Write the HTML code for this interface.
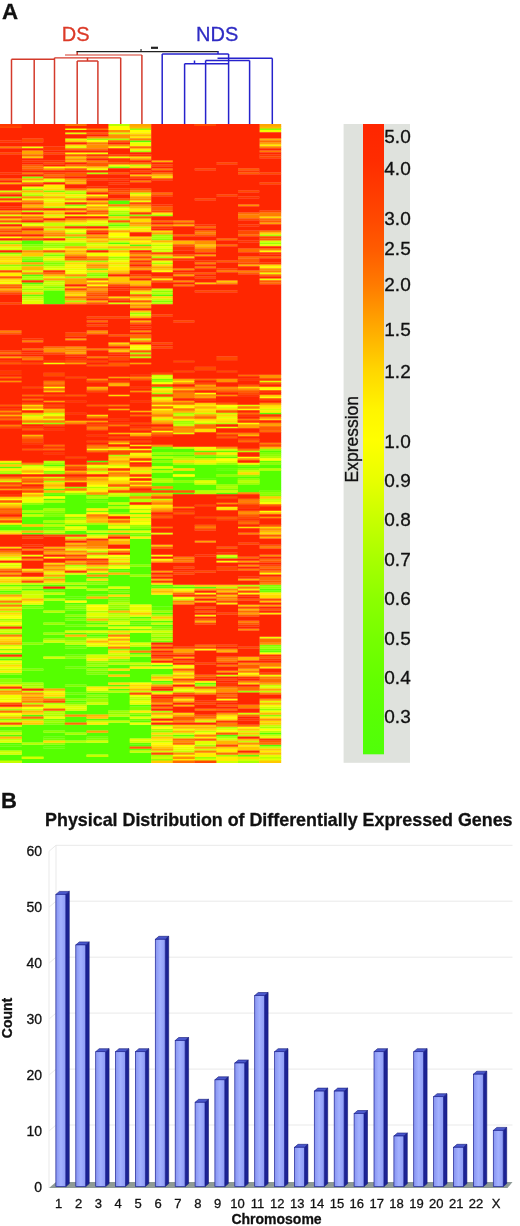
<!DOCTYPE html>
<html><head><meta charset="utf-8"><title>Figure</title>
<style>
html,body{margin:0;padding:0;background:#fff}
body{width:520px;height:1226px;overflow:hidden}
svg{display:block}
svg text{font-family:"Liberation Sans",sans-serif;stroke:#111;stroke-width:.3px}
</style></head><body>
<svg width="520" height="1226" viewBox="0 0 520 1226">
<rect width="520" height="1226" fill="#fff"/>
<text x="2" y="19" font-size="22.3" font-weight="bold" fill="#111">A</text>
<text x="1" y="807.5" font-size="22" font-weight="bold" fill="#111">B</text>
<text x="61.8" y="40.7" font-size="20" fill="#dc3a28" style="stroke:#dc3a28">DS</text>
<text x="196" y="40.7" font-size="20" fill="#2f2cc4" style="stroke:#2f2cc4">NDS</text>
<line x1="11.5" y1="59.3" x2="11.5" y2="124.5" stroke="#d43a2b" stroke-width="1.5"/>
<line x1="34.2" y1="59.3" x2="34.2" y2="124.5" stroke="#d43a2b" stroke-width="1.5"/>
<line x1="11.5" y1="59.3" x2="54.5" y2="59.3" stroke="#d43a2b" stroke-width="1.5"/>
<line x1="54.5" y1="57.8" x2="54.5" y2="124.5" stroke="#d43a2b" stroke-width="1.5"/>
<line x1="54.5" y1="57.8" x2="120.7" y2="57.8" stroke="#d43a2b" stroke-width="1.2"/>
<line x1="77.2" y1="61.0" x2="77.2" y2="124.5" stroke="#d43a2b" stroke-width="1.5"/>
<line x1="97.9" y1="61.0" x2="97.9" y2="124.5" stroke="#d43a2b" stroke-width="1.5"/>
<line x1="77.2" y1="61.0" x2="97.9" y2="61.0" stroke="#d43a2b" stroke-width="1.5"/>
<line x1="87.5" y1="57.8" x2="87.5" y2="61.0" stroke="#d43a2b" stroke-width="1.5"/>
<line x1="120.7" y1="57.8" x2="120.7" y2="124.5" stroke="#d43a2b" stroke-width="1.5"/>
<line x1="141.9" y1="55.0" x2="141.9" y2="124.5" stroke="#d43a2b" stroke-width="1.5"/>
<line x1="65.0" y1="55.0" x2="141.9" y2="55.0" stroke="#d43a2b" stroke-width="1.2"/>
<line x1="77.2" y1="51.6" x2="77.2" y2="55.0" stroke="#d43a2b" stroke-width="1.5"/>
<line x1="76.5" y1="51.6" x2="218.6" y2="51.6" stroke="#222" stroke-width="1.1"/>
<line x1="151.0" y1="47.8" x2="158.0" y2="47.8" stroke="#222" stroke-width="2.2"/>
<line x1="140.3" y1="50.0" x2="141.8" y2="50.0" stroke="#222" stroke-width="1.4"/>
<line x1="218.0" y1="51.6" x2="218.0" y2="54.0" stroke="#2622cc" stroke-width="1.5"/>
<line x1="162.2" y1="54.0" x2="228.6" y2="54.0" stroke="#2622cc" stroke-width="1.5"/>
<line x1="162.2" y1="54.0" x2="162.2" y2="124.5" stroke="#2622cc" stroke-width="1.5"/>
<line x1="228.6" y1="54.0" x2="228.6" y2="124.5" stroke="#2622cc" stroke-width="1.5"/>
<line x1="217.5" y1="58.3" x2="272.3" y2="58.3" stroke="#2622cc" stroke-width="1.5"/>
<line x1="272.3" y1="58.3" x2="272.3" y2="124.5" stroke="#2622cc" stroke-width="1.5"/>
<line x1="205.6" y1="60.5" x2="249.6" y2="60.5" stroke="#2622cc" stroke-width="1.5"/>
<line x1="205.6" y1="60.5" x2="205.6" y2="124.5" stroke="#2622cc" stroke-width="1.5"/>
<line x1="249.6" y1="60.5" x2="249.6" y2="124.5" stroke="#2622cc" stroke-width="1.5"/>
<line x1="184.6" y1="63.7" x2="228.6" y2="63.7" stroke="#2622cc" stroke-width="1.5"/>
<line x1="184.6" y1="63.7" x2="184.6" y2="124.5" stroke="#2622cc" stroke-width="1.5"/>
<line x1="194.5" y1="60.5" x2="194.5" y2="63.7" stroke="#2622cc" stroke-width="1.5"/>
<g fill="none" stroke-width="2.351"><path stroke="#55ff00" d="M129.6 141.31H151.6M108.0 201.35H130.0M108.0 203.35H130.0M21.6 241.37H43.6M21.6 243.37H43.6M108.0 243.37H130.0M129.6 245.38H151.6M21.6 261.39H43.6M21.6 275.39H43.6M21.6 283.40H43.6M43.2 291.40H65.2M43.2 293.41H65.2M43.2 295.41H65.2M151.2 295.41H173.2M43.2 297.41H65.2M43.2 299.41H65.2M43.2 301.41H65.2M43.2 303.41H65.2M259.2 413.48H281.2M151.2 449.50H194.8M151.2 451.51H216.4M259.2 451.51H281.2M151.2 455.51H194.8M194.4 457.51H216.4M151.2 459.51H173.2M86.4 461.51H108.4M151.2 463.51H173.2M43.2 465.51H65.2M151.2 465.51H238.0M259.2 465.51H281.2M0.0 467.52H22.0M172.8 467.52H281.2M151.2 469.52H173.2M194.4 469.52H216.4M172.8 471.52H238.0M259.2 471.52H281.2M151.2 473.52H238.0M259.2 473.52H281.2M151.2 475.52H173.2M194.4 475.52H216.4M259.2 475.52H281.2M151.2 477.52H281.2M172.8 479.52H194.8M216.0 479.52H238.0M259.2 479.52H281.2M216.0 481.52H238.0M259.2 481.52H281.2M151.2 483.53H194.8M216.0 483.53H238.0M259.2 483.53H281.2M151.2 485.53H216.4M237.6 485.53H281.2M172.8 487.53H216.4M237.6 487.53H281.2M43.2 489.53H65.2M151.2 489.53H216.4M237.6 489.53H281.2M237.6 491.53H259.6M172.8 493.53H194.8M216.0 493.53H238.0M43.2 495.53H86.8M64.8 497.53H86.8M108.0 497.53H130.0M43.2 499.54H130.0M64.8 501.54H86.8M108.0 501.54H130.0M43.2 503.54H108.4M21.6 505.54H130.0M21.6 507.54H108.4M21.6 509.54H43.6M64.8 509.54H86.8M108.0 509.54H130.0M64.8 511.54H86.8M108.0 511.54H130.0M21.6 513.54H43.6M64.8 513.54H86.8M21.6 517.55H65.2M21.6 519.55H65.2M21.6 521.55H43.6M21.6 523.55H43.6M64.8 525.55H108.4M0.0 527.55H43.6M86.4 527.55H108.4M0.0 529.55H43.6M86.4 529.55H151.6M64.8 531.56H86.8M21.6 533.56H43.6M64.8 533.56H130.0M129.6 539.56H151.6M129.6 541.56H151.6M129.6 543.56H151.6M129.6 545.56H151.6M129.6 547.57H151.6M129.6 549.57H151.6M129.6 551.57H151.6M129.6 553.57H151.6M129.6 555.57H151.6M129.6 557.57H151.6M129.6 559.57H151.6M129.6 561.57H151.6M129.6 563.58H151.6M129.6 567.58H151.6M108.0 569.58H151.6M129.6 571.58H151.6M129.6 573.58H151.6M64.8 575.58H86.8M108.0 575.58H130.0M64.8 577.58H151.6M64.8 579.59H86.8M108.0 579.59H151.6M64.8 581.59H86.8M108.0 581.59H151.6M108.0 583.59H151.6M21.6 585.59H173.2M86.4 587.59H108.4M129.6 587.59H151.6M172.8 587.59H216.4M21.6 589.59H86.8M108.0 589.59H151.6M259.2 589.59H281.2M0.0 591.59H22.0M64.8 591.59H108.4M129.6 591.59H151.6M64.8 593.59H151.6M43.2 595.60H86.8M129.6 595.60H173.2M43.2 597.60H65.2M129.6 597.60H173.2M64.8 599.60H108.4M129.6 599.60H173.2M43.2 601.60H65.2M86.4 601.60H108.4M129.6 601.60H173.2M43.2 603.60H108.4M129.6 603.60H173.2M21.6 605.60H65.2M151.2 605.60H173.2M43.2 607.60H65.2M21.6 609.60H65.2M21.6 611.61H43.6M64.8 611.61H86.8M21.6 613.61H86.8M151.2 613.61H173.2M21.6 615.61H65.2M21.6 617.61H86.8M129.6 617.61H151.6M21.6 619.61H65.2M21.6 621.61H86.8M129.6 621.61H173.2M21.6 623.61H43.6M64.8 623.61H108.4M21.6 625.61H65.2M129.6 625.61H173.2M21.6 627.62H108.4M21.6 629.62H130.0M21.6 631.62H65.2M21.6 633.62H43.6M64.8 633.62H86.8M129.6 633.62H151.6M21.6 635.62H65.2M86.4 635.62H108.4M129.6 635.62H151.6M21.6 637.62H65.2M129.6 637.62H151.6M21.6 639.62H43.6M129.6 639.62H151.6M21.6 641.62H43.6M129.6 641.62H151.6M43.2 643.63H65.2M21.6 645.63H86.8M21.6 647.63H65.2M86.4 647.63H108.4M129.6 647.63H151.6M21.6 649.63H108.4M129.6 649.63H151.6M21.6 651.63H108.4M0.0 653.63H108.4M129.6 653.63H151.6M21.6 655.63H65.2M21.6 657.63H43.6M129.6 657.63H151.6M0.0 659.64H86.8M129.6 659.64H151.6M21.6 661.64H86.8M129.6 661.64H151.6M21.6 663.64H86.8M21.6 665.64H86.8M108.0 665.64H130.0M151.2 665.64H173.2M21.6 667.64H65.2M86.4 667.64H130.0M43.2 669.64H86.8M129.6 669.64H173.2M21.6 671.64H86.8M108.0 671.64H173.2M21.6 673.64H86.8M108.0 673.64H173.2M0.0 675.65H108.4M129.6 675.65H151.6M0.0 677.65H151.6M21.6 679.65H151.6M21.6 681.65H173.2M43.2 683.65H108.4M43.2 685.65H65.2M86.4 685.65H130.0M43.2 687.65H86.8M64.8 689.65H86.8M108.0 689.65H130.0M64.8 691.66H86.8M86.4 693.66H130.0M64.8 695.66H86.8M108.0 695.66H130.0M64.8 697.66H86.8M108.0 697.66H130.0M108.0 699.66H130.0M64.8 701.66H86.8M108.0 701.66H130.0M108.0 703.66H130.0M86.4 705.66H151.6M86.4 707.67H130.0M86.4 709.67H130.0M64.8 711.67H108.4M64.8 713.67H108.4M21.6 715.67H43.6M64.8 717.67H86.8M108.0 717.67H130.0M64.8 719.67H130.0M64.8 721.67H86.8M129.6 721.67H151.6M108.0 723.68H130.0M21.6 725.68H151.6M0.0 727.68H151.6M0.0 729.68H151.6M21.6 731.68H43.6M64.8 731.68H86.8M108.0 731.68H151.6M21.6 733.68H65.2M86.4 733.68H151.6M259.2 733.68H281.2M0.0 735.68H151.6M216.0 735.68H238.0M21.6 737.68H43.6M64.8 737.68H86.8M108.0 737.68H151.6M21.6 739.69H43.6M64.8 739.69H86.8M108.0 739.69H130.0M21.6 741.69H43.6M108.0 741.69H130.0M0.0 743.69H22.0M64.8 743.69H130.0M21.6 745.69H151.6M259.2 745.69H281.2M0.0 747.69H43.6M64.8 747.69H130.0M0.0 749.69H130.0M21.6 751.69H130.0M21.6 753.69H151.6M0.0 755.70H86.8M108.0 755.70H151.6M0.0 757.70H22.0M43.2 757.70H151.6M0.0 759.70H151.6M21.6 761.70H151.6"/>
<path stroke="#63ff00" d="M108.0 215.36H130.0M108.0 225.36H130.0M21.6 295.41H43.6M151.2 387.46H173.2M216.0 451.51H238.0M216.0 457.51H238.0M259.2 461.51H281.2M216.0 469.52H238.0M194.4 479.52H216.4M129.6 513.54H151.6M43.2 523.55H65.2M0.0 525.55H22.0M43.2 527.55H65.2M108.0 571.58H130.0M0.0 585.59H22.0M151.2 587.59H173.2M43.2 591.59H65.2M64.8 597.60H86.8M151.2 607.60H173.2M151.2 609.60H173.2M108.0 625.61H130.0M259.2 651.63H281.2M194.4 683.65H216.4M129.6 715.67H151.6M172.8 735.68H194.8M43.2 737.68H65.2M129.6 743.69H151.6M0.0 745.69H22.0M43.2 747.69H65.2M129.6 749.69H151.6M237.6 755.70H259.6"/>
<path stroke="#71ff00" d="M151.2 379.46H173.2M151.2 447.50H173.2M237.6 465.51H259.6M259.2 491.53H281.2M43.2 493.53H65.2M86.4 501.54H108.4M43.2 513.54H65.2M43.2 529.55H65.2M129.6 535.56H151.6M86.4 573.58H108.4M86.4 581.59H108.4M259.2 591.59H281.2M86.4 595.60H108.4M108.0 597.60H130.0M64.8 609.60H86.8M108.0 609.60H130.0M129.6 623.61H151.6M64.8 625.61H86.8M151.2 641.62H173.2M64.8 647.63H86.8M259.2 649.63H281.2M64.8 655.63H86.8M108.0 661.64H130.0M64.8 667.64H86.8M86.4 671.64H108.4M64.8 693.66H86.8M86.4 697.66H108.4M43.2 719.67H65.2M129.6 719.67H151.6M86.4 737.68H108.4M43.2 739.69H65.2"/>
<path stroke="#80ff00" d="M108.0 167.33H130.0M43.2 191.34H65.2M0.0 243.37H22.0M21.6 245.38H43.6M43.2 255.38H65.2M21.6 259.38H43.6M43.2 263.39H65.2M21.6 265.39H43.6M86.4 269.39H108.4M86.4 275.39H108.4M43.2 287.40H65.2M151.2 301.41H173.2M259.2 453.51H281.2M194.4 455.51H216.4M216.0 489.53H238.0M86.4 495.53H108.4M259.2 495.53H281.2M86.4 511.54H108.4M108.0 513.54H130.0M43.2 515.55H65.2M64.8 517.55H86.8M43.2 533.56H65.2M129.6 533.56H151.6M259.2 585.59H281.2M108.0 591.59H130.0M0.0 593.59H22.0M108.0 599.60H130.0M64.8 605.60H86.8M21.6 607.60H43.6M64.8 619.61H86.8M151.2 627.62H173.2M129.6 629.62H151.6M86.4 633.62H108.4M64.8 637.62H86.8M151.2 637.62H173.2M64.8 639.62H86.8M259.2 645.63H281.2M86.4 663.64H108.4M129.6 665.64H151.6M21.6 669.64H43.6M86.4 673.64H108.4M64.8 685.65H86.8M64.8 703.66H86.8M129.6 707.67H151.6M129.6 709.67H151.6M43.2 723.68H65.2M86.4 739.69H108.4"/>
<path stroke="#8eff00" d="M259.2 129.30H281.2M21.6 177.33H43.6M64.8 205.35H86.8M129.6 215.36H151.6M64.8 237.37H86.8M151.2 239.37H173.2M43.2 245.38H65.2M86.4 249.38H108.4M0.0 253.38H22.0M21.6 257.38H43.6M0.0 265.39H22.0M151.2 291.40H173.2M172.8 453.51H194.8M259.2 455.51H281.2M151.2 461.51H173.2M0.0 463.51H22.0M259.2 463.51H281.2M237.6 469.52H259.6M43.2 471.52H65.2M216.0 475.52H259.6M237.6 479.52H259.6M172.8 481.52H194.8M64.8 487.53H86.8M259.2 493.53H281.2M129.6 495.53H151.6M21.6 503.54H43.6M43.2 511.54H65.2M129.6 527.55H151.6M129.6 565.58H151.6M86.4 583.59H108.4M259.2 587.59H281.2M108.0 601.60H130.0M108.0 605.60H130.0M64.8 607.60H86.8M64.8 615.61H86.8M108.0 619.61H130.0M86.4 621.61H108.4M151.2 629.62H173.2M0.0 633.62H22.0M86.4 637.62H108.4M21.6 643.63H43.6M0.0 649.63H22.0M108.0 649.63H130.0M64.8 657.63H86.8M108.0 659.64H130.0M0.0 673.64H22.0M0.0 679.65H22.0M0.0 681.65H22.0M151.2 683.65H173.2M86.4 695.66H108.4M64.8 699.66H86.8M259.2 709.67H281.2M108.0 713.67H151.6M259.2 715.67H281.2M0.0 719.67H22.0M0.0 731.68H22.0M43.2 731.68H65.2M151.2 731.68H173.2M43.2 743.69H65.2M151.2 759.70H173.2"/>
<path stroke="#9cff00" d="M129.6 129.30H151.6M86.4 139.31H108.4M21.6 189.34H43.6M0.0 197.35H22.0M151.2 215.36H173.2M151.2 235.37H173.2M43.2 243.37H86.8M259.2 243.37H281.2M64.8 245.38H86.8M21.6 247.38H43.6M21.6 249.38H43.6M108.0 257.38H130.0M86.4 261.39H108.4M43.2 265.39H65.2M86.4 273.39H108.4M21.6 279.40H43.6M21.6 289.40H43.6M129.6 313.42H151.6M151.2 381.46H173.2M151.2 393.47H173.2M172.8 421.49H194.8M43.2 423.49H65.2M259.2 449.50H281.2M151.2 453.51H173.2M172.8 457.51H194.8M43.2 463.51H65.2M216.0 463.51H238.0M0.0 473.52H22.0M43.2 473.52H65.2M237.6 483.53H259.6M216.0 485.53H238.0M64.8 493.53H86.8M129.6 493.53H173.2M129.6 517.55H151.6M129.6 525.55H151.6M216.0 557.57H238.0M129.6 575.58H151.6M108.0 607.60H130.0M151.2 611.61H173.2M0.0 619.61H22.0M43.2 623.61H65.2M43.2 633.62H65.2M151.2 633.62H173.2M43.2 639.62H65.2M259.2 647.63H281.2M0.0 657.63H22.0M86.4 661.64H108.4M86.4 665.64H108.4M86.4 669.64H108.4M0.0 683.65H22.0M21.6 685.65H43.6M151.2 691.66H173.2M237.6 691.66H259.6M86.4 699.66H108.4M86.4 701.66H108.4M108.0 711.67H130.0M21.6 719.67H43.6M43.2 721.67H65.2M194.4 757.70H216.4"/>
<path stroke="#aaff00" d="M108.0 139.31H130.0M129.6 151.32H151.6M64.8 193.34H86.8M21.6 195.34H43.6M108.0 211.35H130.0M108.0 219.36H130.0M108.0 223.36H130.0M64.8 225.36H86.8M259.2 235.37H281.2M151.2 237.37H173.2M43.2 247.38H65.2M151.2 257.38H173.2M43.2 261.39H65.2M151.2 263.39H173.2M21.6 277.40H43.6M64.8 277.40H86.8M21.6 285.40H43.6M64.8 301.41H86.8M129.6 353.44H151.6M172.8 413.48H194.8M172.8 423.49H194.8M108.0 455.51H130.0M216.0 455.51H238.0M259.2 457.51H281.2M172.8 463.51H194.8M151.2 479.52H173.2M43.2 481.52H65.2M86.4 487.53H108.4M216.0 487.53H238.0M86.4 497.53H108.4M43.2 509.54H65.2M129.6 509.54H151.6M21.6 511.54H43.6M64.8 519.55H86.8M43.2 521.55H65.2M86.4 523.55H108.4M64.8 565.58H86.8M43.2 577.58H65.2M172.8 585.59H194.8M21.6 587.59H43.6M0.0 589.59H22.0M86.4 611.61H108.4M108.0 613.61H130.0M151.2 615.61H173.2M108.0 617.61H130.0M129.6 619.61H151.6M64.8 641.62H86.8M21.6 683.65H43.6M194.4 685.65H216.4M86.4 691.66H108.4M43.2 697.66H65.2M43.2 703.66H65.2M0.0 709.67H22.0M43.2 711.67H65.2M151.2 711.67H173.2M43.2 715.67H65.2M151.2 725.68H173.2M259.2 727.68H281.2M151.2 729.68H173.2M64.8 733.68H86.8M151.2 735.68H173.2M216.0 737.68H238.0M194.4 745.69H216.4M151.2 755.70H173.2M216.0 755.70H238.0M237.6 761.70H259.6"/>
<path stroke="#b8ff00" d="M108.0 125.30H130.0M86.4 173.33H108.4M43.2 207.35H65.2M108.0 213.36H130.0M86.4 225.36H108.4M108.0 227.36H130.0M64.8 233.37H86.8M151.2 245.38H173.2M108.0 249.38H130.0M64.8 261.39H86.8M86.4 277.40H108.4M43.2 281.40H65.2M43.2 285.40H65.2M43.2 289.40H65.2M151.2 293.41H173.2M21.6 297.41H43.6M151.2 303.41H173.2M129.6 357.45H151.6M194.4 423.49H238.0M237.6 451.51H259.6M151.2 457.51H173.2M172.8 459.51H194.8M43.2 461.51H65.2M21.6 465.51H43.6M259.2 469.52H281.2M0.0 471.52H22.0M151.2 471.52H173.2M151.2 481.52H173.2M237.6 481.52H259.6M194.4 491.53H216.4M194.4 493.53H216.4M129.6 499.54H151.6M43.2 501.54H65.2M129.6 501.54H151.6M108.0 507.54H130.0M64.8 523.55H86.8M43.2 525.55H65.2M108.0 525.55H130.0M86.4 551.57H108.4M43.2 583.59H86.8M237.6 585.59H259.6M216.0 587.59H238.0M86.4 589.59H108.4M0.0 603.60H22.0M108.0 603.60H130.0M0.0 611.61H22.0M43.2 611.61H65.2M86.4 617.61H108.4M86.4 625.61H108.4M0.0 629.62H22.0M108.0 633.62H130.0M151.2 635.62H173.2M151.2 639.62H173.2M108.0 655.63H151.6M108.0 663.64H130.0M151.2 675.65H173.2M21.6 687.65H43.6M0.0 689.65H22.0M108.0 691.66H130.0M129.6 699.66H151.6M21.6 703.66H43.6M43.2 713.67H65.2M108.0 715.67H130.0M216.0 727.68H238.0M259.2 731.68H281.2M237.6 735.68H259.6M64.8 741.69H86.8M21.6 743.69H43.6M259.2 757.70H281.2"/>
<path stroke="#c6ff00" d="M129.6 165.33H151.6M64.8 191.34H86.8M129.6 193.34H151.6M108.0 207.35H130.0M21.6 211.35H43.6M21.6 223.36H65.2M43.2 225.36H65.2M43.2 229.37H65.2M0.0 241.37H22.0M86.4 243.37H108.4M151.2 249.38H173.2M43.2 253.38H65.2M108.0 259.38H130.0M21.6 291.40H43.6M21.6 299.41H43.6M151.2 299.41H173.2M151.2 375.46H173.2M151.2 397.47H173.2M43.2 413.48H65.2M194.4 413.48H238.0M21.6 415.48H43.6M172.8 415.48H194.8M21.6 423.49H43.6M172.8 425.49H194.8M194.4 459.51H216.4M86.4 471.52H108.4M237.6 471.52H259.6M194.4 483.53H216.4M216.0 491.53H238.0M108.0 495.53H130.0M151.2 499.54H173.2M259.2 499.54H281.2M108.0 503.54H130.0M21.6 515.55H43.6M43.2 531.56H65.2M64.8 537.56H86.8M108.0 565.58H130.0M21.6 583.59H43.6M64.8 587.59H86.8M21.6 591.59H43.6M21.6 593.59H65.2M43.2 599.60H65.2M172.8 599.60H194.8M108.0 615.61H130.0M0.0 621.61H22.0M108.0 621.61H130.0M151.2 623.61H173.2M0.0 625.61H22.0M64.8 643.63H86.8M0.0 645.63H22.0M129.6 645.63H151.6M129.6 663.64H151.6M0.0 669.64H22.0M259.2 685.65H281.2M129.6 691.66H151.6M259.2 691.66H281.2M129.6 697.66H151.6M64.8 705.66H86.8M21.6 709.67H43.6M86.4 721.67H130.0M259.2 725.68H281.2M194.4 731.68H216.4M0.0 733.68H22.0M259.2 735.68H281.2M172.8 737.68H194.8M0.0 739.69H22.0M151.2 741.69H173.2M237.6 741.69H259.6M259.2 747.69H281.2M0.0 751.69H22.0M129.6 751.69H151.6M172.8 751.69H194.8M86.4 755.70H108.4M151.2 757.70H173.2M0.0 761.70H22.0"/>
<path stroke="#d4ff00" d="M108.0 133.31H130.0M43.2 181.34H65.2M0.0 191.34H22.0M21.6 193.34H43.6M64.8 197.35H86.8M43.2 215.36H65.2M0.0 223.36H22.0M129.6 227.36H151.6M64.8 229.37H86.8M108.0 241.37H130.0M259.2 241.37H281.2M0.0 249.38H22.0M129.6 249.38H151.6M151.2 251.38H173.2M0.0 255.38H22.0M43.2 257.38H65.2M0.0 267.39H22.0M43.2 267.39H65.2M0.0 269.39H22.0M43.2 283.40H65.2M21.6 287.40H43.6M151.2 289.40H173.2M129.6 293.41H151.6M108.0 303.41H130.0M129.6 315.42H151.6M129.6 339.43H151.6M259.2 409.48H281.2M151.2 419.48H173.2M172.8 447.50H194.8M216.0 449.50H238.0M194.4 463.51H216.4M108.0 465.51H130.0M43.2 467.52H65.2M86.4 467.52H108.4M129.6 471.52H151.6M43.2 477.52H65.2M0.0 481.52H22.0M108.0 487.53H130.0M108.0 493.53H130.0M259.2 501.54H281.2M64.8 529.55H86.8M0.0 531.56H22.0M86.4 531.56H108.4M86.4 535.56H108.4M86.4 555.57H108.4M216.0 555.57H238.0M0.0 557.57H22.0M108.0 557.57H130.0M0.0 565.58H22.0M86.4 567.58H108.4M64.8 573.58H86.8M0.0 583.59H22.0M0.0 587.59H22.0M21.6 595.60H43.6M21.6 597.60H43.6M151.2 619.61H173.2M0.0 631.62H22.0M64.8 631.62H86.8M151.2 631.62H173.2M43.2 641.62H65.2M108.0 653.63H130.0M86.4 655.63H108.4M43.2 657.63H65.2M86.4 657.63H108.4M0.0 663.64H22.0M216.0 675.65H238.0M21.6 691.66H43.6M172.8 691.66H194.8M86.4 703.66H108.4M259.2 707.67H281.2M64.8 709.67H86.8M237.6 713.67H259.6M151.2 717.67H173.2M0.0 721.67H22.0M194.4 721.67H216.4M0.0 725.68H22.0M237.6 731.68H259.6M172.8 733.68H194.8M216.0 739.69H238.0M86.4 741.69H108.4M129.6 741.69H151.6M194.4 749.69H216.4M151.2 751.69H173.2M0.0 753.69H22.0M21.6 757.70H43.6M194.4 759.70H216.4M237.6 759.70H259.6M216.0 761.70H238.0"/>
<path stroke="#e3ff00" d="M64.8 133.31H86.8M64.8 139.31H86.8M64.8 147.31H86.8M43.2 195.34H65.2M43.2 201.35H65.2M64.8 207.35H86.8M0.0 215.36H22.0M86.4 223.36H108.4M108.0 229.37H130.0M43.2 237.37H65.2M108.0 237.37H130.0M43.2 241.37H86.8M86.4 245.38H130.0M259.2 245.38H281.2M0.0 247.38H22.0M108.0 265.39H130.0M43.2 269.39H86.8M21.6 271.39H43.6M43.2 277.40H65.2M21.6 301.41H43.6M21.6 303.41H43.6M129.6 349.44H151.6M151.2 377.46H173.2M259.2 381.46H281.2M237.6 405.48H259.6M216.0 407.48H238.0M216.0 417.48H238.0M43.2 419.48H65.2M216.0 427.49H238.0M172.8 433.49H194.8M216.0 461.51H238.0M151.2 467.52H173.2M194.4 481.52H216.4M86.4 489.53H108.4M21.6 497.53H43.6M64.8 521.55H86.8M129.6 521.55H151.6M129.6 531.56H151.6M151.2 533.56H173.2M64.8 549.57H86.8M108.0 561.57H130.0M64.8 567.58H86.8M43.2 573.58H65.2M108.0 587.59H130.0M0.0 599.60H22.0M21.6 603.60H43.6M0.0 607.60H22.0M129.6 607.60H151.6M129.6 609.60H151.6M86.4 613.61H108.4M86.4 615.61H108.4M129.6 615.61H151.6M108.0 623.61H130.0M108.0 627.62H130.0M86.4 631.62H108.4M129.6 643.63H151.6M86.4 645.63H108.4M259.2 687.65H281.2M43.2 691.66H65.2M0.0 699.66H22.0M259.2 701.66H281.2M129.6 703.66H151.6M43.2 705.66H65.2M43.2 707.67H86.8M0.0 715.67H22.0M129.6 717.67H151.6M216.0 729.68H238.0M259.2 737.68H281.2M129.6 739.69H151.6M0.0 741.69H22.0M194.4 741.69H216.4M194.4 743.69H216.4M172.8 749.69H194.8M259.2 755.70H281.2M259.2 759.70H281.2"/>
<path stroke="#f1ff00" d="M64.8 129.30H86.8M259.2 131.30H281.2M129.6 143.31H151.6M129.6 145.31H151.6M21.6 147.31H43.6M86.4 153.32H108.4M108.0 157.32H130.0M108.0 165.33H130.0M86.4 169.33H108.4M43.2 179.33H65.2M21.6 181.34H43.6M21.6 187.34H43.6M21.6 199.35H65.2M64.8 201.35H86.8M129.6 201.35H151.6M64.8 215.36H86.8M86.4 221.36H108.4M64.8 223.36H86.8M21.6 225.36H43.6M151.2 243.37H173.2M151.2 247.38H173.2M43.2 249.38H65.2M86.4 253.38H108.4M86.4 255.38H108.4M108.0 261.39H130.0M151.2 261.39H173.2M64.8 265.39H86.8M64.8 273.39H86.8M259.2 273.39H281.2M259.2 279.40H281.2M0.0 283.40H22.0M43.2 363.45H65.2M151.2 389.47H173.2M43.2 415.48H65.2M194.4 421.49H216.4M194.4 447.50H216.4M86.4 449.50H130.0M129.6 453.51H151.6M237.6 463.51H259.6M86.4 465.51H108.4M21.6 467.52H43.6M108.0 477.52H151.6M64.8 491.53H86.8M21.6 499.54H43.6M21.6 501.54H43.6M0.0 503.54H22.0M129.6 505.54H151.6M129.6 511.54H151.6M64.8 515.55H86.8M64.8 527.55H86.8M108.0 527.55H130.0M21.6 555.57H43.6M0.0 563.58H22.0M0.0 577.58H22.0M172.8 589.59H194.8M172.8 597.60H194.8M129.6 605.60H151.6M86.4 607.60H108.4M86.4 609.60H108.4M129.6 611.61H151.6M0.0 615.61H22.0M129.6 627.62H151.6M129.6 631.62H151.6M259.2 637.62H281.2M86.4 639.62H108.4M108.0 641.62H130.0M86.4 643.63H108.4M0.0 651.63H22.0M0.0 661.64H22.0M0.0 667.64H22.0M151.2 667.64H194.8M172.8 673.64H194.8M259.2 675.65H281.2M86.4 689.65H108.4M172.8 689.65H194.8M194.4 691.66H216.4M0.0 695.66H22.0M129.6 695.66H151.6M0.0 697.66H22.0M129.6 701.66H151.6M259.2 705.66H281.2M259.2 711.67H281.2M43.2 717.67H65.2M129.6 723.68H151.6M172.8 729.68H194.8M172.8 747.69H194.8"/>
<path stroke="#ffff00" d="M108.0 127.30H130.0M108.0 129.30H130.0M129.6 131.30H151.6M86.4 141.31H108.4M108.0 147.31H130.0M64.8 153.32H86.8M43.2 167.33H65.2M86.4 195.34H108.4M86.4 205.35H108.4M108.0 209.35H130.0M86.4 215.36H108.4M64.8 231.37H86.8M108.0 233.37H130.0M108.0 235.37H130.0M0.0 237.37H22.0M129.6 241.37H151.6M259.2 251.38H281.2M108.0 253.38H130.0M108.0 255.38H130.0M259.2 267.39H281.2M64.8 271.39H86.8M151.2 271.39H173.2M86.4 281.40H108.4M86.4 285.40H108.4M129.6 347.44H151.6M151.2 383.46H173.2M43.2 387.46H65.2M259.2 389.47H281.2M194.4 393.47H216.4M259.2 397.47H281.2M151.2 405.48H173.2M216.0 405.48H238.0M172.8 407.48H194.8M21.6 409.48H43.6M151.2 409.48H173.2M237.6 409.48H259.6M237.6 423.49H259.6M151.2 431.49H173.2M129.6 449.50H151.6M237.6 457.51H259.6M216.0 459.51H238.0M259.2 459.51H281.2M129.6 461.51H151.6M108.0 467.52H130.0M43.2 469.52H65.2M21.6 473.52H43.6M172.8 475.52H194.8M108.0 479.52H130.0M129.6 481.52H151.6M86.4 485.53H108.4M43.2 497.53H65.2M0.0 499.54H22.0M259.2 503.54H281.2M129.6 507.54H151.6M259.2 511.54H281.2M86.4 513.54H108.4M129.6 523.55H151.6M108.0 549.57H130.0M108.0 555.57H130.0M151.2 555.57H173.2M43.2 557.57H65.2M86.4 557.57H108.4M0.0 559.57H22.0M151.2 559.57H173.2M216.0 561.57H238.0M108.0 567.58H130.0M259.2 573.58H281.2M194.4 593.59H216.4M237.6 593.59H259.6M64.8 601.60H86.8M86.4 605.60H108.4M0.0 617.61H22.0M0.0 623.61H22.0M108.0 637.62H130.0M108.0 645.63H130.0M0.0 647.63H22.0M194.4 649.63H216.4M259.2 653.63H281.2M151.2 663.64H173.2M237.6 673.64H259.6M129.6 683.65H151.6M216.0 699.66H238.0M0.0 701.66H22.0M21.6 707.67H43.6M0.0 713.67H22.0M216.0 717.67H238.0M151.2 727.68H173.2M237.6 727.68H259.6M259.2 729.68H281.2M216.0 731.68H238.0M194.4 733.68H216.4M151.2 743.69H173.2M172.8 745.69H194.8M172.8 755.70H194.8"/>
<path stroke="#ffed00" d="M129.6 133.31H151.6M129.6 137.31H151.6M259.2 145.31H281.2M129.6 149.32H151.6M64.8 167.33H86.8M43.2 185.34H65.2M43.2 187.34H65.2M64.8 195.34H86.8M129.6 195.34H151.6M129.6 209.35H151.6M151.2 213.36H173.2M129.6 229.37H151.6M64.8 249.38H86.8M43.2 259.38H65.2M0.0 261.39H22.0M64.8 267.39H86.8M108.0 267.39H130.0M108.0 269.39H130.0M0.0 273.39H22.0M0.0 275.39H22.0M151.2 279.40H173.2M0.0 281.40H22.0M129.6 299.41H151.6M129.6 345.44H151.6M172.8 381.46H194.8M259.2 387.46H281.2M151.2 399.47H173.2M172.8 405.48H216.4M259.2 407.48H281.2M194.4 409.48H216.4M259.2 411.48H281.2M21.6 417.48H43.6M172.8 419.48H194.8M216.0 419.48H238.0M129.6 445.50H151.6M194.4 449.50H216.4M216.0 453.51H238.0M129.6 455.51H151.6M0.0 461.51H22.0M194.4 461.51H216.4M0.0 469.52H43.6M86.4 473.52H108.4M129.6 485.53H151.6M86.4 491.53H108.4M21.6 493.53H43.6M151.2 505.54H173.2M216.0 507.54H238.0M86.4 509.54H108.4M108.0 515.55H151.6M129.6 519.55H151.6M0.0 523.55H22.0M86.4 537.56H108.4M129.6 537.56H151.6M86.4 549.57H108.4M0.0 567.58H22.0M21.6 569.58H43.6M64.8 569.58H86.8M86.4 571.58H108.4M21.6 577.58H43.6M237.6 589.59H259.6M151.2 593.59H173.2M259.2 593.59H281.2M0.0 597.60H22.0M21.6 601.60H43.6M216.0 603.60H238.0M259.2 613.61H281.2M194.4 615.61H216.4M0.0 637.62H22.0M86.4 659.64H108.4M172.8 665.64H194.8M129.6 667.64H151.6M259.2 667.64H281.2M0.0 671.64H22.0M172.8 677.65H194.8M151.2 679.65H173.2M194.4 681.65H216.4M172.8 683.65H194.8M0.0 685.65H22.0M86.4 687.65H108.4M129.6 687.65H151.6M43.2 693.66H65.2M151.2 693.66H173.2M172.8 699.66H194.8M129.6 711.67H151.6M151.2 715.67H173.2M259.2 717.67H281.2M86.4 723.68H108.4M194.4 737.68H216.4M151.2 739.69H173.2M151.2 745.69H173.2M237.6 745.69H259.6M216.0 749.69H238.0M216.0 751.69H238.0M259.2 751.69H281.2M194.4 753.69H216.4M194.4 755.70H216.4M216.0 757.70H238.0M172.8 759.70H194.8M216.0 759.70H238.0"/>
<path stroke="#ffdb00" d="M64.8 145.31H86.8M129.6 157.32H151.6M129.6 167.33H151.6M151.2 177.33H173.2M43.2 189.34H65.2M43.2 193.34H65.2M43.2 203.35H65.2M43.2 205.35H65.2M43.2 211.35H65.2M129.6 211.35H151.6M21.6 215.36H43.6M43.2 217.36H65.2M259.2 217.36H281.2M129.6 219.36H151.6M129.6 221.36H151.6M129.6 231.37H173.2M259.2 233.37H281.2M129.6 237.37H151.6M64.8 239.37H108.4M129.6 243.37H151.6M86.4 247.38H108.4M172.8 257.38H194.8M0.0 259.38H22.0M64.8 263.39H86.8M108.0 263.39H130.0M151.2 265.39H173.2M259.2 265.39H281.2M86.4 271.39H108.4M0.0 279.40H22.0M129.6 291.40H151.6M64.8 295.41H86.8M108.0 297.41H130.0M151.2 297.41H173.2M129.6 303.41H151.6M108.0 343.44H130.0M237.6 387.46H259.6M151.2 391.47H173.2M108.0 395.47H130.0M21.6 405.48H43.6M259.2 405.48H281.2M216.0 409.48H238.0M194.4 411.48H216.4M86.4 415.48H108.4M216.0 415.48H238.0M151.2 417.48H173.2M21.6 419.48H43.6M194.4 419.48H216.4M259.2 419.48H281.2M216.0 421.49H238.0M194.4 429.49H216.4M194.4 431.49H216.4M129.6 433.49H151.6M108.0 443.50H130.0M108.0 459.51H130.0M172.8 461.51H194.8M129.6 469.52H151.6M172.8 469.52H194.8M108.0 471.52H130.0M129.6 473.52H151.6M237.6 473.52H259.6M108.0 481.52H130.0M43.2 483.53H65.2M86.4 483.53H108.4M43.2 487.53H65.2M151.2 507.54H173.2M216.0 509.54H238.0M108.0 523.55H130.0M237.6 527.55H281.2M108.0 531.56H130.0M0.0 533.56H22.0M259.2 533.56H281.2M108.0 539.56H130.0M0.0 547.57H22.0M108.0 559.57H130.0M43.2 563.58H65.2M43.2 571.58H65.2M0.0 579.59H22.0M86.4 579.59H108.4M43.2 581.59H65.2M151.2 583.59H173.2M151.2 589.59H173.2M172.8 591.59H194.8M108.0 595.60H130.0M259.2 595.60H281.2M259.2 597.60H281.2M0.0 613.61H22.0M108.0 631.62H130.0M0.0 639.62H22.0M108.0 651.63H130.0M108.0 657.63H130.0M0.0 665.64H22.0M108.0 669.64H130.0M108.0 683.65H130.0M237.6 683.65H259.6M129.6 685.65H151.6M108.0 687.65H130.0M43.2 695.66H65.2M0.0 707.67H22.0M21.6 713.67H43.6M172.8 713.67H194.8M216.0 715.67H238.0M216.0 719.67H238.0M21.6 721.67H43.6M151.2 721.67H173.2M259.2 721.67H281.2M194.4 729.68H216.4M151.2 733.68H173.2M43.2 741.69H65.2M237.6 757.70H259.6"/>
<path stroke="#ffc900" d="M64.8 141.31H86.8M21.6 157.32H43.6M64.8 157.32H86.8M86.4 167.33H108.4M129.6 175.33H151.6M0.0 201.35H22.0M86.4 201.35H108.4M64.8 211.35H86.8M108.0 217.36H130.0M0.0 219.36H22.0M64.8 221.36H86.8M86.4 229.37H108.4M0.0 245.38H22.0M194.4 245.38H216.4M21.6 253.38H43.6M64.8 253.38H86.8M21.6 255.38H43.6M151.2 255.38H173.2M0.0 257.38H22.0M0.0 263.39H22.0M86.4 263.39H108.4M151.2 269.39H173.2M108.0 271.39H130.0M108.0 277.40H130.0M108.0 279.40H130.0M108.0 281.40H151.6M216.0 281.40H238.0M129.6 283.40H151.6M194.4 283.40H216.4M64.8 287.40H86.8M21.6 293.41H43.6M64.8 293.41H86.8M129.6 311.42H151.6M108.0 351.44H130.0M172.8 389.47H194.8M43.2 391.47H65.2M259.2 395.47H281.2M151.2 401.47H173.2M194.4 403.47H216.4M151.2 411.48H173.2M108.0 457.51H151.6M108.0 463.51H130.0M0.0 465.51H22.0M129.6 467.52H151.6M86.4 477.52H108.4M64.8 481.52H108.4M108.0 483.53H130.0M108.0 489.53H130.0M0.0 497.53H22.0M259.2 497.53H281.2M0.0 505.54H22.0M86.4 519.55H108.4M21.6 525.55H43.6M151.2 545.56H173.2M64.8 553.57H86.8M0.0 555.57H22.0M21.6 579.59H43.6M0.0 581.59H22.0M194.4 585.59H238.0M216.0 591.59H238.0M216.0 595.60H238.0M194.4 601.60H216.4M259.2 601.60H281.2M237.6 605.60H259.6M129.6 613.61H151.6M151.2 617.61H173.2M0.0 641.62H22.0M108.0 643.63H130.0M108.0 675.65H130.0M237.6 675.65H259.6M172.8 687.65H194.8M194.4 689.65H216.4M21.6 695.66H43.6M86.4 717.67H108.4M194.4 719.67H216.4M21.6 723.68H43.6M259.2 723.68H281.2M172.8 725.68H216.4M237.6 729.68H259.6M237.6 733.68H259.6M151.2 737.68H173.2M151.2 747.69H173.2M216.0 747.69H259.6M237.6 749.69H281.2M151.2 761.70H173.2M259.2 761.70H281.2"/>
<path stroke="#ffb700" d="M129.6 127.30H151.6M259.2 127.30H281.2M129.6 135.31H151.6M259.2 139.31H281.2M64.8 161.32H86.8M151.2 161.32H173.2M151.2 175.33H173.2M0.0 183.34H22.0M64.8 183.34H86.8M86.4 189.34H108.4M21.6 191.34H43.6M43.2 197.35H65.2M21.6 205.35H43.6M129.6 207.35H151.6M86.4 209.35H108.4M43.2 213.36H65.2M129.6 225.36H151.6M172.8 225.36H194.8M0.0 227.36H22.0M43.2 227.36H65.2M43.2 231.37H65.2M21.6 237.37H43.6M108.0 239.37H151.6M86.4 241.37H108.4M151.2 241.37H194.8M172.8 243.37H194.8M108.0 247.38H151.6M64.8 251.38H86.8M108.0 251.38H130.0M237.6 265.39H259.6M21.6 267.39H43.6M21.6 269.39H43.6M43.2 275.39H65.2M0.0 289.40H22.0M129.6 297.41H151.6M86.4 301.41H108.4M129.6 317.42H151.6M129.6 321.42H151.6M108.0 385.46H130.0M86.4 387.46H108.4M194.4 407.48H216.4M43.2 409.48H65.2M108.0 409.48H130.0M129.6 411.48H151.6M172.8 411.48H194.8M21.6 413.48H43.6M151.2 413.48H173.2M0.0 415.48H22.0M64.8 421.49H86.8M151.2 421.49H173.2M108.0 433.49H130.0M21.6 435.49H43.6M237.6 435.49H259.6M108.0 447.50H130.0M259.2 447.50H281.2M21.6 471.52H43.6M64.8 471.52H86.8M21.6 477.52H43.6M0.0 479.52H22.0M21.6 483.53H43.6M43.2 485.53H65.2M43.2 491.53H65.2M21.6 495.53H43.6M151.2 501.54H173.2M259.2 513.54H281.2M0.0 519.55H22.0M108.0 519.55H130.0M86.4 521.55H108.4M21.6 531.56H43.6M259.2 531.56H281.2M259.2 537.56H281.2M108.0 541.56H130.0M64.8 543.56H86.8M108.0 543.56H130.0M43.2 547.57H86.8M151.2 561.57H173.2M86.4 565.58H108.4M43.2 567.58H65.2M108.0 573.58H130.0M151.2 579.59H173.2M237.6 579.59H259.6M151.2 591.59H173.2M86.4 597.60H108.4M21.6 599.60H43.6M0.0 609.60H22.0M237.6 609.60H259.6M108.0 611.61H130.0M86.4 619.61H108.4M194.4 621.61H216.4M64.8 635.62H86.8M86.4 641.62H108.4M216.0 651.63H238.0M172.8 657.63H194.8M237.6 657.63H259.6M237.6 659.64H259.6M237.6 669.64H259.6M172.8 671.64H194.8M172.8 675.65H194.8M151.2 677.65H173.2M129.6 689.65H151.6M259.2 703.66H281.2M172.8 705.66H194.8M21.6 711.67H43.6M259.2 713.67H281.2M86.4 715.67H108.4M0.0 717.67H22.0M172.8 727.68H216.4M172.8 731.68H194.8M0.0 737.68H22.0M237.6 739.69H259.6M216.0 741.69H238.0M216.0 743.69H238.0M259.2 753.69H281.2"/>
<path stroke="#ffa500" d="M129.6 125.30H151.6M259.2 125.30H281.2M259.2 143.31H281.2M21.6 151.32H43.6M21.6 153.32H43.6M21.6 179.33H43.6M64.8 181.34H86.8M129.6 197.35H151.6M64.8 199.35H86.8M21.6 207.35H43.6M86.4 207.35H108.4M0.0 211.35H22.0M86.4 219.36H108.4M43.2 221.36H65.2M259.2 223.36H281.2M108.0 231.37H130.0M151.2 233.37H173.2M64.8 235.37H108.4M64.8 247.38H86.8M194.4 247.38H216.4M129.6 255.38H151.6M194.4 255.38H216.4M129.6 259.38H151.6M21.6 263.39H43.6M86.4 267.39H108.4M151.2 267.39H173.2M129.6 269.39H151.6M108.0 273.39H130.0M172.8 275.39H194.8M43.2 279.40H86.8M64.8 281.40H86.8M64.8 283.40H86.8M108.0 283.40H130.0M129.6 285.40H151.6M86.4 289.40H108.4M64.8 291.40H86.8M64.8 299.41H86.8M64.8 303.41H86.8M129.6 307.41H151.6M64.8 339.43H86.8M108.0 349.44H130.0M64.8 353.44H86.8M0.0 357.45H22.0M64.8 363.45H86.8M129.6 363.45H151.6M108.0 377.46H130.0M172.8 379.46H194.8M108.0 383.46H130.0M194.4 385.46H216.4M194.4 397.47H216.4M43.2 401.47H65.2M172.8 401.47H194.8M43.2 411.48H65.2M194.4 415.48H216.4M43.2 417.48H65.2M86.4 421.49H108.4M237.6 425.49H281.2M237.6 427.49H259.6M129.6 435.49H151.6M194.4 453.51H216.4M108.0 461.51H130.0M86.4 469.52H108.4M86.4 479.52H108.4M0.0 489.53H22.0M151.2 495.53H173.2M0.0 507.54H22.0M151.2 509.54H173.2M86.4 517.55H108.4M64.8 539.56H86.8M194.4 541.56H216.4M0.0 553.57H22.0M43.2 553.57H65.2M64.8 561.57H86.8M237.6 561.57H259.6M108.0 563.58H130.0M21.6 571.58H43.6M151.2 571.58H173.2M0.0 573.58H22.0M43.2 575.58H65.2M43.2 579.59H65.2M194.4 589.59H216.4M0.0 595.60H22.0M194.4 597.60H216.4M172.8 603.60H194.8M259.2 605.60H281.2M237.6 613.61H259.6M108.0 639.62H130.0M0.0 643.63H22.0M172.8 649.63H194.8M172.8 651.63H194.8M151.2 659.64H173.2M216.0 671.64H238.0M259.2 683.65H281.2M151.2 685.65H173.2M43.2 689.65H65.2M259.2 689.65H281.2M0.0 693.66H22.0M21.6 699.66H43.6M172.8 701.66H194.8M151.2 703.66H173.2M151.2 713.67H173.2M172.8 715.67H194.8M86.4 731.68H108.4M194.4 747.69H216.4M151.2 749.69H173.2M237.6 753.69H259.6"/>
<path stroke="#ff9200" d="M108.0 131.30H130.0M108.0 135.31H130.0M86.4 137.31H130.0M86.4 145.31H130.0M86.4 147.31H108.4M64.8 159.32H86.8M129.6 159.32H151.6M43.2 169.33H65.2M64.8 179.33H86.8M86.4 191.34H108.4M21.6 197.35H43.6M86.4 197.35H108.4M129.6 199.35H151.6M21.6 201.35H43.6M129.6 205.35H151.6M237.6 205.35H259.6M172.8 221.36H194.8M129.6 223.36H151.6M151.2 225.36H173.2M21.6 231.37H43.6M21.6 233.37H65.2M194.4 241.37H216.4M194.4 243.37H216.4M21.6 251.38H43.6M64.8 255.38H86.8M86.4 257.38H108.4M86.4 265.39H108.4M172.8 269.39H194.8M259.2 269.39H281.2M21.6 273.39H43.6M64.8 275.39H86.8M172.8 281.40H194.8M86.4 283.40H108.4M216.0 283.40H238.0M129.6 305.41H151.6M86.4 331.43H108.4M129.6 331.43H151.6M129.6 341.44H151.6M108.0 345.44H130.0M64.8 347.44H86.8M43.2 349.44H65.2M43.2 351.44H86.8M259.2 375.46H281.2M129.6 377.46H151.6M259.2 377.46H281.2M86.4 379.46H108.4M216.0 379.46H238.0M0.0 381.46H22.0M216.0 381.46H238.0M172.8 383.46H194.8M216.0 387.46H238.0M86.4 389.47H108.4M194.4 389.47H216.4M237.6 389.47H259.6M129.6 391.47H151.6M194.4 395.47H238.0M259.2 403.47H281.2M21.6 407.48H43.6M0.0 411.48H22.0M172.8 417.48H194.8M259.2 417.48H281.2M151.2 423.49H173.2M259.2 423.49H281.2M172.8 429.49H194.8M172.8 431.49H194.8M151.2 445.50H173.2M216.0 447.50H238.0M237.6 459.51H259.6M64.8 465.51H86.8M108.0 475.52H130.0M43.2 479.52H65.2M151.2 487.53H173.2M21.6 489.53H43.6M86.4 493.53H108.4M237.6 493.53H259.6M129.6 497.53H151.6M216.0 503.54H238.0M172.8 507.54H194.8M237.6 513.54H259.6M259.2 517.55H281.2M259.2 529.55H281.2M108.0 535.56H130.0M86.4 547.57H108.4M21.6 549.57H43.6M43.2 551.57H86.8M259.2 555.57H281.2M64.8 557.57H86.8M21.6 559.57H43.6M237.6 565.58H259.6M43.2 569.58H65.2M86.4 569.58H108.4M86.4 575.58H108.4M216.0 589.59H238.0M216.0 599.60H238.0M237.6 629.62H259.6M259.2 643.63H281.2M151.2 649.63H173.2M216.0 649.63H238.0M237.6 663.64H259.6M172.8 681.65H194.8M216.0 689.65H238.0M0.0 691.66H22.0M216.0 691.66H238.0M21.6 693.66H43.6M194.4 693.66H216.4M21.6 697.66H43.6M259.2 699.66H281.2M216.0 713.67H238.0M64.8 715.67H86.8M259.2 719.67H281.2M172.8 721.67H194.8M172.8 741.69H194.8M237.6 743.69H259.6M172.8 753.69H194.8M172.8 757.70H194.8"/>
<path stroke="#ff8000" d="M129.6 139.31H151.6M86.4 143.31H108.4M0.0 147.31H22.0M259.2 147.31H281.2M259.2 151.32H281.2M86.4 157.32H108.4M86.4 161.32H108.4M151.2 169.33H173.2M21.6 173.33H43.6M129.6 181.34H151.6M64.8 189.34H86.8M129.6 191.34H151.6M0.0 193.34H22.0M86.4 203.35H108.4M108.0 205.35H130.0M259.2 213.36H281.2M237.6 215.36H281.2M237.6 217.36H259.6M21.6 219.36H43.6M64.8 219.36H86.8M21.6 227.36H43.6M259.2 231.37H281.2M0.0 233.37H22.0M194.4 233.37H216.4M43.2 235.37H65.2M86.4 237.37H108.4M259.2 249.38H281.2M86.4 259.38H108.4M194.4 263.39H216.4M129.6 267.39H151.6M194.4 267.39H216.4M216.0 271.39H281.2M129.6 277.40H151.6M172.8 285.40H194.8M0.0 291.40H22.0M86.4 291.40H108.4M0.0 331.43H22.0M86.4 333.43H108.4M21.6 341.44H43.6M64.8 349.44H108.4M86.4 357.45H108.4M21.6 359.45H43.6M43.2 383.46H65.2M172.8 387.46H216.4M216.0 389.47H238.0M172.8 393.47H194.8M172.8 395.47H194.8M172.8 397.47H194.8M151.2 403.47H173.2M108.0 405.48H130.0M237.6 407.48H259.6M172.8 409.48H194.8M151.2 415.48H173.2M237.6 419.48H259.6M21.6 421.49H65.2M64.8 423.49H86.8M0.0 425.49H22.0M108.0 425.49H130.0M86.4 427.49H108.4M172.8 427.49H194.8M216.0 433.49H259.6M108.0 441.50H130.0M259.2 443.50H281.2M86.4 447.50H108.4M21.6 463.51H43.6M64.8 473.52H86.8M108.0 473.52H130.0M129.6 483.53H151.6M0.0 485.53H22.0M64.8 489.53H86.8M237.6 501.54H259.6M151.2 503.54H173.2M151.2 511.54H173.2M237.6 511.54H259.6M86.4 515.55H108.4M0.0 517.55H22.0M151.2 527.55H173.2M194.4 527.55H216.4M237.6 533.56H259.6M86.4 541.56H108.4M86.4 543.56H108.4M64.8 545.56H108.4M259.2 547.57H281.2M108.0 551.57H130.0M86.4 553.57H108.4M172.8 557.57H194.8M172.8 561.57H194.8M64.8 563.58H86.8M43.2 565.58H65.2M0.0 569.58H22.0M237.6 569.58H259.6M259.2 571.58H281.2M259.2 583.59H281.2M237.6 587.59H259.6M216.0 597.60H238.0M0.0 601.60H22.0M172.8 601.60H194.8M0.0 605.60H22.0M237.6 621.61H259.6M0.0 635.62H22.0M108.0 635.62H130.0M151.2 645.63H173.2M108.0 647.63H130.0M129.6 651.63H151.6M216.0 659.64H238.0M259.2 663.64H281.2M216.0 665.64H238.0M259.2 665.64H281.2M237.6 671.64H259.6M259.2 677.65H281.2M237.6 681.65H259.6M216.0 687.65H238.0M259.2 693.66H281.2M172.8 697.66H194.8M43.2 699.66H65.2M21.6 701.66H43.6M21.6 705.66H43.6M237.6 705.66H259.6M151.2 707.67H173.2M237.6 707.67H259.6M194.4 709.67H216.4M216.0 723.68H238.0M216.0 725.68H238.0M194.4 735.68H216.4M194.4 751.69H216.4"/>
<path stroke="#ff6e00" d="M64.8 125.30H86.8M86.4 129.30H108.4M259.2 141.31H281.2M129.6 147.31H151.6M64.8 149.32H108.4M21.6 155.32H43.6M129.6 163.32H151.6M64.8 165.33H86.8M21.6 167.33H43.6M151.2 173.33H173.2M43.2 175.33H65.2M0.0 179.33H22.0M21.6 183.34H43.6M151.2 193.34H173.2M86.4 213.36H108.4M237.6 213.36H259.6M21.6 217.36H43.6M259.2 219.36H281.2M151.2 221.36H173.2M194.4 227.36H216.4M0.0 229.37H22.0M194.4 231.37H216.4M172.8 235.37H194.8M237.6 235.37H259.6M216.0 239.37H238.0M216.0 245.38H238.0M194.4 249.38H216.4M237.6 249.38H259.6M194.4 251.38H216.4M237.6 251.38H259.6M129.6 253.38H151.6M237.6 257.38H281.2M64.8 259.38H86.8M129.6 263.39H151.6M43.2 273.39H65.2M259.2 275.39H281.2M259.2 283.40H281.2M0.0 285.40H22.0M86.4 287.40H108.4M129.6 289.40H151.6M64.8 297.41H108.4M86.4 321.42H108.4M129.6 335.43H151.6M129.6 337.43H151.6M43.2 347.44H65.2M21.6 349.44H43.6M0.0 353.44H22.0M129.6 355.44H151.6M21.6 357.45H43.6M237.6 375.46H259.6M0.0 377.46H22.0M194.4 379.46H216.4M43.2 381.46H65.2M43.2 389.47H65.2M21.6 395.47H43.6M21.6 399.47H43.6M172.8 403.47H194.8M151.2 407.48H173.2M237.6 413.48H259.6M129.6 415.48H151.6M86.4 417.48H108.4M194.4 417.48H216.4M0.0 419.48H22.0M194.4 425.49H216.4M151.2 427.49H173.2M194.4 427.49H216.4M86.4 429.49H108.4M259.2 431.49H281.2M151.2 433.49H173.2M21.6 437.50H43.6M237.6 441.50H259.6M43.2 445.50H65.2M86.4 445.50H108.4M43.2 449.50H65.2M237.6 449.50H259.6M86.4 451.51H108.4M0.0 477.52H22.0M21.6 479.52H43.6M64.8 479.52H86.8M129.6 487.53H151.6M237.6 499.54H259.6M237.6 503.54H259.6M0.0 511.54H22.0M108.0 521.55H130.0M237.6 523.55H259.6M0.0 551.57H22.0M237.6 557.57H259.6M172.8 559.57H194.8M259.2 559.57H281.2M86.4 561.57H108.4M259.2 567.58H281.2M151.2 575.58H173.2M259.2 577.58H281.2M259.2 579.59H281.2M172.8 593.59H194.8M237.6 611.61H259.6M259.2 639.62H281.2M259.2 641.62H281.2M194.4 645.63H216.4M172.8 653.63H194.8M216.0 657.63H238.0M216.0 661.64H238.0M194.4 675.65H216.4M259.2 679.65H281.2M259.2 681.65H281.2M237.6 687.65H259.6M237.6 689.65H259.6M216.0 695.66H238.0M216.0 709.67H238.0M0.0 711.67H22.0M237.6 715.67H259.6M21.6 717.67H43.6M194.4 717.67H216.4M64.8 723.68H86.8M237.6 725.68H259.6M172.8 739.69H194.8M172.8 743.69H194.8M259.2 743.69H281.2M216.0 753.69H238.0M172.8 761.70H194.8"/>
<path stroke="#ff5c00" d="M86.4 133.31H108.4M108.0 141.31H130.0M64.8 155.32H86.8M86.4 163.32H130.0M21.6 165.33H43.6M86.4 165.33H108.4M21.6 169.33H43.6M64.8 169.33H86.8M237.6 169.33H259.6M64.8 173.33H86.8M108.0 173.33H130.0M237.6 173.33H259.6M64.8 175.33H86.8M129.6 189.34H151.6M108.0 193.34H130.0M108.0 199.35H130.0M21.6 203.35H43.6M151.2 207.35H173.2M151.2 209.35H173.2M86.4 211.35H108.4M0.0 213.36H22.0M129.6 217.36H151.6M0.0 221.36H22.0M108.0 221.36H130.0M259.2 221.36H281.2M194.4 235.37H216.4M259.2 239.37H281.2M172.8 245.38H194.8M43.2 251.38H65.2M172.8 255.38H194.8M151.2 259.38H173.2M237.6 259.38H259.6M216.0 261.39H259.6M194.4 273.39H216.4M237.6 273.39H259.6M0.0 277.40H22.0M151.2 277.40H173.2M86.4 279.40H108.4M151.2 281.40H173.2M259.2 281.40H281.2M0.0 287.40H22.0M86.4 293.41H108.4M129.6 295.41H151.6M108.0 299.41H130.0M129.6 301.41H151.6M86.4 303.41H108.4M129.6 323.42H151.6M0.0 333.43H22.0M108.0 335.43H130.0M129.6 351.44H151.6M0.0 363.45H22.0M108.0 363.45H130.0M86.4 365.45H130.0M129.6 379.46H151.6M259.2 383.46H281.2M43.2 385.46H65.2M237.6 385.46H259.6M172.8 391.47H194.8M216.0 391.47H259.6M64.8 395.47H86.8M216.0 403.47H238.0M0.0 405.48H22.0M86.4 405.48H108.4M216.0 411.48H238.0M259.2 427.49H281.2M21.6 429.49H43.6M129.6 429.49H151.6M259.2 429.49H281.2M216.0 437.50H238.0M21.6 449.50H43.6M86.4 463.51H108.4M64.8 477.52H86.8M21.6 481.52H43.6M108.0 485.53H130.0M172.8 491.53H194.8M0.0 501.54H22.0M259.2 505.54H281.2M0.0 509.54H22.0M0.0 513.54H22.0M172.8 513.54H194.8M237.6 515.55H259.6M151.2 517.55H173.2M216.0 517.55H238.0M237.6 521.55H259.6M194.4 525.55H216.4M259.2 525.55H281.2M259.2 535.56H281.2M259.2 545.56H281.2M151.2 547.57H173.2M216.0 547.57H238.0M43.2 549.57H65.2M259.2 561.57H281.2M259.2 581.59H281.2M237.6 599.60H259.6M194.4 607.60H216.4M259.2 609.60H281.2M194.4 611.61H216.4M237.6 615.61H259.6M194.4 619.61H216.4M237.6 623.61H259.6M151.2 653.63H173.2M259.2 657.63H281.2M172.8 661.64H194.8M237.6 665.64H259.6M237.6 667.64H259.6M172.8 669.64H194.8M194.4 687.65H216.4M172.8 693.66H194.8M151.2 699.66H173.2M151.2 701.66H173.2M0.0 703.66H22.0M216.0 705.66H238.0M43.2 709.67H65.2M194.4 715.67H216.4M172.8 717.67H194.8M172.8 719.67H194.8M216.0 733.68H238.0M194.4 739.69H216.4M259.2 741.69H281.2M129.6 747.69H151.6"/>
<path stroke="#ff4a00" d="M194.4 125.30H216.4M0.0 127.30H22.0M21.6 139.31H43.6M21.6 141.31H43.6M0.0 153.32H22.0M43.2 153.32H65.2M108.0 155.32H130.0M259.2 157.32H281.2M43.2 163.32H65.2M216.0 163.32H238.0M151.2 165.33H173.2M194.4 169.33H216.4M129.6 171.33H151.6M43.2 173.33H65.2M259.2 173.33H281.2M43.2 177.33H65.2M129.6 177.33H151.6M86.4 179.33H108.4M151.2 179.33H173.2M259.2 183.34H281.2M108.0 191.34H130.0M237.6 191.34H259.6M151.2 195.34H173.2M216.0 195.34H238.0M194.4 199.35H216.4M129.6 203.35H151.6M64.8 209.35H86.8M151.2 211.35H173.2M259.2 211.35H281.2M0.0 217.36H22.0M237.6 219.36H259.6M172.8 223.36H194.8M0.0 231.37H22.0M86.4 231.37H108.4M237.6 231.37H259.6M237.6 233.37H259.6M259.2 237.37H281.2M21.6 239.37H43.6M151.2 253.38H173.2M64.8 257.38H86.8M129.6 257.38H151.6M237.6 263.39H259.6M216.0 269.39H238.0M0.0 271.39H22.0M172.8 273.39H194.8M129.6 275.39H151.6M194.4 277.40H216.4M108.0 285.40H130.0M64.8 289.40H86.8M194.4 291.40H238.0M0.0 293.41H22.0M86.4 295.41H108.4M0.0 303.41H22.0M151.2 315.42H173.2M86.4 317.42H130.0M172.8 321.42H194.8M86.4 325.43H108.4M64.8 333.43H86.8M64.8 335.43H86.8M151.2 343.44H173.2M151.2 347.44H173.2M0.0 351.44H22.0M43.2 353.44H65.2M108.0 357.45H130.0M216.0 357.45H238.0M108.0 359.45H130.0M216.0 359.45H238.0M64.8 361.45H108.4M172.8 361.45H194.8M21.6 363.45H43.6M194.4 367.45H216.4M194.4 369.45H216.4M172.8 371.45H194.8M216.0 371.45H238.0M43.2 373.46H65.2M151.2 373.46H173.2M43.2 375.46H65.2M64.8 377.46H86.8M86.4 381.46H108.4M194.4 383.46H216.4M151.2 385.46H173.2M21.6 387.46H43.6M86.4 391.47H108.4M237.6 393.47H259.6M43.2 395.47H65.2M151.2 395.47H173.2M259.2 399.47H281.2M21.6 403.47H43.6M43.2 405.48H65.2M0.0 413.48H22.0M0.0 417.48H22.0M129.6 423.49H151.6M43.2 425.49H65.2M86.4 425.49H108.4M0.0 427.49H22.0M151.2 429.49H173.2M151.2 435.49H173.2M108.0 437.50H130.0M21.6 439.50H43.6M237.6 439.50H259.6M21.6 441.50H43.6M86.4 441.50H108.4M129.6 441.50H151.6M259.2 445.50H281.2M108.0 451.51H151.6M108.0 453.51H130.0M64.8 457.51H86.8M64.8 467.52H86.8M0.0 483.53H22.0M21.6 487.53H43.6M21.6 491.53H43.6M108.0 491.53H173.2M151.2 497.53H173.2M216.0 497.53H238.0M194.4 505.54H216.4M151.2 515.55H173.2M194.4 517.55H216.4M237.6 517.55H259.6M216.0 519.55H238.0M0.0 521.55H22.0M194.4 529.55H216.4M43.2 535.56H86.8M21.6 537.56H43.6M237.6 543.56H259.6M64.8 555.57H86.8M86.4 563.58H108.4M259.2 565.58H281.2M172.8 567.58H194.8M216.0 567.58H238.0M216.0 569.58H238.0M259.2 569.58H281.2M0.0 571.58H22.0M194.4 571.58H216.4M172.8 573.58H194.8M0.0 575.58H22.0M21.6 581.59H43.6M237.6 591.59H259.6M216.0 593.59H238.0M259.2 599.60H281.2M216.0 601.60H238.0M237.6 607.60H259.6M216.0 613.61H238.0M194.4 623.61H216.4M216.0 645.63H238.0M172.8 647.63H216.4M237.6 647.63H259.6M151.2 657.63H173.2M194.4 663.64H216.4M259.2 673.64H281.2M194.4 677.65H216.4M172.8 679.65H194.8M216.0 679.65H238.0M151.2 687.65H173.2M129.6 693.66H151.6M216.0 693.66H238.0M216.0 697.66H238.0M43.2 701.66H65.2M194.4 703.66H216.4M0.0 723.68H22.0M216.0 745.69H238.0M151.2 753.69H173.2M194.4 761.70H216.4"/>
<path stroke="#ff3800" d="M0.0 125.30H22.0M0.0 141.31H22.0M43.2 147.31H65.2M43.2 149.32H65.2M86.4 155.32H108.4M129.6 155.32H151.6M259.2 155.32H281.2M108.0 159.32H130.0M21.6 161.32H65.2M108.0 161.32H130.0M237.6 171.33H259.6M0.0 173.33H22.0M108.0 179.33H130.0M108.0 183.34H130.0M86.4 187.34H108.4M108.0 189.34H130.0M237.6 197.35H259.6M0.0 199.35H22.0M64.8 203.35H86.8M151.2 205.35H173.2M0.0 207.35H22.0M21.6 209.35H43.6M129.6 213.36H151.6M194.4 225.36H216.4M237.6 225.36H259.6M64.8 227.36H86.8M151.2 227.36H173.2M237.6 241.37H259.6M172.8 247.38H194.8M172.8 249.38H194.8M259.2 253.38H281.2M172.8 259.38H194.8M129.6 261.39H151.6M194.4 261.39H216.4M259.2 263.39H281.2M43.2 271.39H65.2M21.6 281.40H43.6M129.6 287.40H151.6M108.0 289.40H130.0M86.4 299.41H108.4M129.6 327.43H151.6M21.6 339.43H43.6M21.6 353.44H43.6M108.0 353.44H130.0M64.8 355.44H86.8M64.8 359.45H86.8M0.0 361.45H22.0M43.2 361.45H65.2M0.0 371.45H22.0M0.0 373.46H22.0M129.6 375.46H151.6M237.6 379.46H281.2M108.0 381.46H130.0M129.6 387.46H151.6M259.2 391.47H281.2M237.6 395.47H259.6M194.4 399.47H216.4M64.8 401.47H86.8M129.6 401.47H151.6M43.2 407.48H65.2M0.0 409.48H22.0M64.8 413.48H86.8M237.6 415.48H281.2M108.0 419.48H130.0M237.6 421.49H259.6M86.4 423.49H130.0M21.6 427.49H43.6M129.6 427.49H151.6M43.2 429.49H65.2M86.4 435.49H108.4M216.0 435.49H238.0M129.6 437.50H151.6M21.6 443.50H43.6M43.2 447.50H65.2M43.2 453.51H65.2M129.6 459.51H151.6M129.6 465.51H151.6M64.8 469.52H86.8M108.0 469.52H130.0M129.6 475.52H151.6M0.0 487.53H22.0M0.0 495.53H22.0M237.6 505.54H259.6M237.6 507.54H259.6M172.8 511.54H194.8M237.6 519.55H259.6M86.4 539.56H108.4M21.6 545.56H43.6M0.0 549.57H22.0M216.0 553.57H238.0M194.4 555.57H216.4M86.4 559.57H108.4M64.8 571.58H86.8M172.8 571.58H194.8M237.6 577.58H259.6M151.2 581.59H173.2M172.8 595.60H216.4M237.6 595.60H259.6M237.6 625.61H259.6M0.0 627.62H22.0M0.0 655.63H22.0M259.2 655.63H281.2M259.2 659.64H281.2M237.6 677.65H259.6M216.0 683.65H238.0M216.0 685.65H238.0M0.0 687.65H22.0M151.2 695.66H173.2M194.4 701.66H238.0M237.6 719.67H259.6M216.0 721.67H238.0M259.2 739.69H281.2"/>
<path stroke="#ff2600" d="M21.6 125.30H65.2M86.4 125.30H108.4M151.2 125.30H194.8M216.0 125.30H259.6M21.6 127.30H108.4M151.2 127.30H259.6M0.0 129.30H65.2M151.2 129.30H259.6M0.0 131.30H108.4M151.2 131.30H259.6M0.0 133.31H65.2M151.2 133.31H281.2M0.0 135.31H108.4M151.2 135.31H281.2M0.0 137.31H86.8M151.2 137.31H281.2M0.0 139.31H22.0M43.2 139.31H65.2M151.2 139.31H259.6M43.2 141.31H65.2M151.2 141.31H259.6M0.0 143.31H86.8M108.0 143.31H130.0M151.2 143.31H259.6M0.0 145.31H65.2M151.2 145.31H259.6M151.2 147.31H259.6M0.0 149.32H43.6M108.0 149.32H130.0M151.2 149.32H281.2M0.0 151.32H22.0M43.2 151.32H130.0M151.2 151.32H259.6M108.0 153.32H281.2M0.0 155.32H22.0M43.2 155.32H65.2M151.2 155.32H259.6M0.0 157.32H22.0M43.2 157.32H65.2M151.2 157.32H259.6M0.0 159.32H65.2M86.4 159.32H108.4M151.2 159.32H281.2M0.0 161.32H22.0M129.6 161.32H151.6M172.8 161.32H281.2M0.0 163.32H43.6M64.8 163.32H86.8M151.2 163.32H216.4M237.6 163.32H281.2M0.0 165.33H22.0M43.2 165.33H65.2M172.8 165.33H281.2M0.0 167.33H22.0M151.2 167.33H281.2M0.0 169.33H22.0M108.0 169.33H151.6M172.8 169.33H194.8M216.0 169.33H238.0M259.2 169.33H281.2M0.0 171.33H130.0M151.2 171.33H238.0M259.2 171.33H281.2M129.6 173.33H151.6M172.8 173.33H238.0M0.0 175.33H43.6M86.4 175.33H130.0M172.8 175.33H281.2M0.0 177.33H22.0M64.8 177.33H130.0M172.8 177.33H281.2M129.6 179.33H151.6M172.8 179.33H281.2M0.0 181.34H22.0M86.4 181.34H130.0M151.2 181.34H281.2M43.2 183.34H65.2M86.4 183.34H108.4M129.6 183.34H259.6M0.0 185.34H43.6M64.8 185.34H281.2M0.0 187.34H22.0M64.8 187.34H86.8M108.0 187.34H281.2M0.0 189.34H22.0M151.2 189.34H281.2M151.2 191.34H238.0M259.2 191.34H281.2M86.4 193.34H108.4M172.8 193.34H281.2M0.0 195.34H22.0M108.0 195.34H130.0M172.8 195.34H216.4M237.6 195.34H281.2M108.0 197.35H130.0M151.2 197.35H238.0M259.2 197.35H281.2M86.4 199.35H108.4M151.2 199.35H194.8M216.0 199.35H281.2M151.2 201.35H281.2M0.0 203.35H22.0M151.2 203.35H281.2M0.0 205.35H22.0M172.8 205.35H238.0M259.2 205.35H281.2M172.8 207.35H281.2M0.0 209.35H22.0M43.2 209.35H65.2M172.8 209.35H281.2M172.8 211.35H259.6M21.6 213.36H43.6M64.8 213.36H86.8M172.8 213.36H238.0M172.8 215.36H238.0M64.8 217.36H108.4M151.2 217.36H238.0M43.2 219.36H65.2M151.2 219.36H238.0M21.6 221.36H43.6M194.4 221.36H259.6M151.2 223.36H173.2M194.4 223.36H259.6M0.0 225.36H22.0M216.0 225.36H238.0M259.2 225.36H281.2M86.4 227.36H108.4M172.8 227.36H194.8M216.0 227.36H281.2M21.6 229.37H43.6M151.2 229.37H281.2M172.8 231.37H194.8M216.0 231.37H238.0M86.4 233.37H108.4M129.6 233.37H151.6M172.8 233.37H194.8M216.0 233.37H238.0M0.0 235.37H43.6M129.6 235.37H151.6M216.0 235.37H238.0M172.8 237.37H259.6M0.0 239.37H22.0M43.2 239.37H65.2M172.8 239.37H216.4M237.6 239.37H259.6M216.0 241.37H238.0M216.0 243.37H259.6M237.6 245.38H259.6M216.0 247.38H281.2M216.0 249.38H238.0M0.0 251.38H22.0M86.4 251.38H108.4M129.6 251.38H151.6M172.8 251.38H194.8M216.0 251.38H238.0M172.8 253.38H259.6M216.0 255.38H281.2M194.4 257.38H238.0M194.4 259.38H238.0M259.2 259.38H281.2M172.8 261.39H194.8M259.2 261.39H281.2M172.8 263.39H194.8M216.0 263.39H238.0M129.6 265.39H151.6M172.8 265.39H238.0M172.8 267.39H194.8M216.0 267.39H259.6M194.4 269.39H216.4M237.6 269.39H259.6M129.6 271.39H151.6M172.8 271.39H216.4M129.6 273.39H173.2M216.0 273.39H238.0M108.0 275.39H130.0M151.2 275.39H173.2M194.4 275.39H259.6M172.8 277.40H194.8M216.0 277.40H281.2M129.6 279.40H151.6M172.8 279.40H259.6M194.4 281.40H216.4M237.6 281.40H259.6M151.2 283.40H194.8M237.6 283.40H259.6M64.8 285.40H86.8M151.2 285.40H173.2M194.4 285.40H281.2M108.0 287.40H130.0M151.2 287.40H281.2M172.8 289.40H281.2M108.0 291.40H130.0M172.8 291.40H194.8M237.6 291.40H281.2M108.0 293.41H130.0M172.8 293.41H281.2M0.0 295.41H22.0M108.0 295.41H130.0M172.8 295.41H281.2M0.0 297.41H22.0M172.8 297.41H281.2M0.0 299.41H22.0M172.8 299.41H281.2M0.0 301.41H22.0M108.0 301.41H130.0M172.8 301.41H281.2M172.8 303.41H281.2M0.0 305.41H130.0M151.2 305.41H281.2M0.0 307.41H130.0M151.2 307.41H281.2M0.0 309.42H281.2M0.0 311.42H130.0M151.2 311.42H281.2M0.0 313.42H130.0M151.2 313.42H281.2M0.0 315.42H130.0M172.8 315.42H281.2M0.0 317.42H86.8M151.2 317.42H281.2M0.0 319.42H281.2M0.0 321.42H86.8M108.0 321.42H130.0M151.2 321.42H173.2M194.4 321.42H281.2M0.0 323.42H130.0M151.2 323.42H281.2M0.0 325.43H86.8M108.0 325.43H281.2M0.0 327.43H130.0M151.2 327.43H281.2M0.0 329.43H281.2M21.6 331.43H86.8M108.0 331.43H130.0M151.2 331.43H281.2M21.6 333.43H65.2M108.0 333.43H281.2M0.0 335.43H65.2M86.4 335.43H108.4M151.2 335.43H281.2M0.0 337.43H130.0M151.2 337.43H281.2M0.0 339.43H22.0M43.2 339.43H65.2M86.4 339.43H130.0M151.2 339.43H281.2M0.0 341.44H22.0M43.2 341.44H130.0M151.2 341.44H281.2M0.0 343.44H108.4M129.6 343.44H151.6M172.8 343.44H281.2M0.0 345.44H108.4M151.2 345.44H281.2M0.0 347.44H43.6M86.4 347.44H130.0M172.8 347.44H281.2M0.0 349.44H22.0M151.2 349.44H281.2M21.6 351.44H43.6M86.4 351.44H108.4M151.2 351.44H281.2M86.4 353.44H108.4M151.2 353.44H281.2M0.0 355.44H65.2M86.4 355.44H130.0M151.2 355.44H281.2M43.2 357.45H86.8M151.2 357.45H216.4M237.6 357.45H281.2M0.0 359.45H22.0M43.2 359.45H65.2M86.4 359.45H108.4M129.6 359.45H216.4M237.6 359.45H281.2M21.6 361.45H43.6M108.0 361.45H173.2M194.4 361.45H281.2M86.4 363.45H108.4M151.2 363.45H281.2M0.0 365.45H86.8M129.6 365.45H281.2M0.0 367.45H194.8M216.0 367.45H281.2M0.0 369.45H194.8M216.0 369.45H281.2M21.6 371.45H173.2M194.4 371.45H216.4M237.6 371.45H281.2M21.6 373.46H43.6M64.8 373.46H151.6M172.8 373.46H281.2M0.0 375.46H43.6M64.8 375.46H130.0M172.8 375.46H238.0M21.6 377.46H65.2M86.4 377.46H108.4M172.8 377.46H259.6M0.0 379.46H86.8M108.0 379.46H130.0M21.6 381.46H43.6M64.8 381.46H86.8M129.6 381.46H151.6M194.4 381.46H216.4M237.6 381.46H259.6M0.0 383.46H43.6M64.8 383.46H108.4M129.6 383.46H151.6M216.0 383.46H259.6M0.0 385.46H43.6M64.8 385.46H108.4M129.6 385.46H151.6M172.8 385.46H194.8M216.0 385.46H238.0M259.2 385.46H281.2M0.0 387.46H22.0M64.8 387.46H86.8M108.0 387.46H130.0M0.0 389.47H43.6M64.8 389.47H86.8M108.0 389.47H151.6M0.0 391.47H43.6M64.8 391.47H86.8M108.0 391.47H130.0M194.4 391.47H216.4M0.0 393.47H151.6M216.0 393.47H238.0M259.2 393.47H281.2M0.0 395.47H22.0M86.4 395.47H108.4M129.6 395.47H151.6M0.0 397.47H151.6M216.0 397.47H259.6M0.0 399.47H22.0M43.2 399.47H151.6M172.8 399.47H194.8M216.0 399.47H259.6M0.0 401.47H43.6M86.4 401.47H130.0M194.4 401.47H281.2M0.0 403.47H22.0M43.2 403.47H151.6M237.6 403.47H259.6M64.8 405.48H86.8M129.6 405.48H151.6M0.0 407.48H22.0M64.8 407.48H151.6M64.8 409.48H108.4M129.6 409.48H151.6M21.6 411.48H43.6M64.8 411.48H130.0M237.6 411.48H259.6M86.4 413.48H151.6M64.8 415.48H86.8M108.0 415.48H130.0M64.8 417.48H86.8M108.0 417.48H151.6M237.6 417.48H259.6M64.8 419.48H108.4M129.6 419.48H151.6M0.0 421.49H22.0M108.0 421.49H151.6M259.2 421.49H281.2M0.0 423.49H22.0M21.6 425.49H43.6M64.8 425.49H86.8M129.6 425.49H173.2M216.0 425.49H238.0M43.2 427.49H86.8M108.0 427.49H130.0M0.0 429.49H22.0M64.8 429.49H86.8M108.0 429.49H130.0M216.0 429.49H259.6M0.0 431.49H151.6M216.0 431.49H259.6M0.0 433.49H108.4M194.4 433.49H216.4M259.2 433.49H281.2M0.0 435.49H22.0M43.2 435.49H86.8M108.0 435.49H130.0M172.8 435.49H216.4M259.2 435.49H281.2M0.0 437.50H22.0M43.2 437.50H108.4M151.2 437.50H216.4M237.6 437.50H281.2M0.0 439.50H22.0M43.2 439.50H238.0M259.2 439.50H281.2M0.0 441.50H22.0M43.2 441.50H86.8M151.2 441.50H238.0M259.2 441.50H281.2M0.0 443.50H22.0M43.2 443.50H108.4M129.6 443.50H259.6M0.0 445.50H43.6M64.8 445.50H86.8M108.0 445.50H130.0M172.8 445.50H259.6M0.0 447.50H43.6M64.8 447.50H86.8M129.6 447.50H151.6M237.6 447.50H259.6M0.0 449.50H22.0M64.8 449.50H86.8M0.0 451.51H86.8M0.0 453.51H43.6M64.8 453.51H108.4M237.6 453.51H259.6M0.0 455.51H108.4M237.6 455.51H259.6M0.0 457.51H65.2M86.4 457.51H108.4M0.0 459.51H108.4M21.6 461.51H43.6M64.8 461.51H86.8M237.6 461.51H259.6M64.8 463.51H86.8M129.6 463.51H151.6M0.0 475.52H108.4M129.6 479.52H151.6M64.8 483.53H86.8M21.6 485.53H43.6M64.8 485.53H86.8M129.6 489.53H151.6M0.0 491.53H22.0M0.0 493.53H22.0M172.8 495.53H259.6M172.8 497.53H216.4M237.6 497.53H259.6M172.8 499.54H238.0M172.8 501.54H238.0M129.6 503.54H151.6M172.8 503.54H216.4M172.8 505.54H194.8M216.0 505.54H238.0M194.4 507.54H216.4M259.2 507.54H281.2M172.8 509.54H216.4M237.6 509.54H281.2M194.4 511.54H238.0M151.2 513.54H173.2M194.4 513.54H238.0M0.0 515.55H22.0M172.8 515.55H238.0M259.2 515.55H281.2M108.0 517.55H130.0M172.8 517.55H194.8M151.2 519.55H216.4M259.2 519.55H281.2M151.2 521.55H238.0M259.2 521.55H281.2M151.2 523.55H238.0M259.2 523.55H281.2M151.2 525.55H194.8M216.0 525.55H259.6M172.8 527.55H194.8M216.0 527.55H238.0M151.2 529.55H194.8M216.0 529.55H259.6M151.2 531.56H259.6M172.8 533.56H238.0M0.0 535.56H43.6M151.2 535.56H259.6M0.0 537.56H22.0M43.2 537.56H65.2M108.0 537.56H130.0M151.2 537.56H259.6M0.0 539.56H65.2M151.2 539.56H281.2M0.0 541.56H86.8M151.2 541.56H194.8M216.0 541.56H281.2M0.0 543.56H65.2M151.2 543.56H238.0M259.2 543.56H281.2M0.0 545.56H22.0M43.2 545.56H65.2M108.0 545.56H130.0M172.8 545.56H259.6M21.6 547.57H43.6M108.0 547.57H130.0M172.8 547.57H216.4M237.6 547.57H259.6M151.2 549.57H281.2M21.6 551.57H43.6M151.2 551.57H281.2M21.6 553.57H43.6M108.0 553.57H130.0M151.2 553.57H216.4M237.6 553.57H281.2M43.2 555.57H65.2M172.8 555.57H194.8M237.6 555.57H259.6M21.6 557.57H43.6M151.2 557.57H173.2M194.4 557.57H216.4M259.2 557.57H281.2M43.2 559.57H86.8M194.4 559.57H259.6M0.0 561.57H65.2M194.4 561.57H216.4M21.6 563.58H43.6M151.2 563.58H281.2M21.6 565.58H43.6M151.2 565.58H238.0M21.6 567.58H43.6M151.2 567.58H173.2M194.4 567.58H216.4M237.6 567.58H259.6M151.2 569.58H216.4M216.0 571.58H259.6M21.6 573.58H43.6M151.2 573.58H173.2M194.4 573.58H259.6M21.6 575.58H43.6M172.8 575.58H281.2M151.2 577.58H238.0M172.8 579.59H238.0M172.8 581.59H259.6M172.8 583.59H259.6M43.2 587.59H65.2M194.4 591.59H216.4M237.6 597.60H259.6M194.4 599.60H216.4M237.6 601.60H259.6M194.4 603.60H216.4M237.6 603.60H281.2M172.8 605.60H238.0M172.8 607.60H194.8M216.0 607.60H238.0M259.2 607.60H281.2M172.8 609.60H238.0M172.8 611.61H194.8M216.0 611.61H238.0M259.2 611.61H281.2M172.8 613.61H216.4M172.8 615.61H194.8M216.0 615.61H238.0M259.2 615.61H281.2M172.8 617.61H281.2M172.8 619.61H194.8M216.0 619.61H281.2M172.8 621.61H194.8M216.0 621.61H238.0M259.2 621.61H281.2M172.8 623.61H194.8M216.0 623.61H238.0M259.2 623.61H281.2M172.8 625.61H238.0M259.2 625.61H281.2M172.8 627.62H281.2M172.8 629.62H238.0M259.2 629.62H281.2M172.8 631.62H281.2M172.8 633.62H281.2M172.8 635.62H281.2M172.8 637.62H259.6M172.8 639.62H259.6M172.8 641.62H259.6M151.2 643.63H259.6M172.8 645.63H194.8M237.6 645.63H259.6M151.2 647.63H173.2M216.0 647.63H238.0M237.6 649.63H259.6M151.2 651.63H173.2M194.4 651.63H216.4M237.6 651.63H259.6M194.4 653.63H259.6M151.2 655.63H259.6M194.4 657.63H216.4M172.8 659.64H216.4M151.2 661.64H173.2M194.4 661.64H216.4M237.6 661.64H281.2M172.8 663.64H194.8M216.0 663.64H238.0M194.4 665.64H216.4M194.4 667.64H238.0M194.4 669.64H238.0M259.2 669.64H281.2M194.4 671.64H216.4M259.2 671.64H281.2M194.4 673.64H238.0M216.0 677.65H238.0M194.4 679.65H216.4M237.6 679.65H259.6M216.0 681.65H238.0M172.8 685.65H194.8M237.6 685.65H259.6M21.6 689.65H43.6M151.2 689.65H173.2M237.6 693.66H259.6M172.8 695.66H216.4M237.6 695.66H281.2M151.2 697.66H173.2M194.4 697.66H216.4M237.6 697.66H281.2M194.4 699.66H216.4M237.6 699.66H259.6M237.6 701.66H259.6M172.8 703.66H194.8M216.0 703.66H259.6M0.0 705.66H22.0M151.2 705.66H173.2M194.4 705.66H216.4M172.8 707.67H238.0M151.2 709.67H194.8M237.6 709.67H259.6M172.8 711.67H259.6M194.4 713.67H216.4M237.6 717.67H259.6M151.2 719.67H173.2M237.6 721.67H259.6M151.2 723.68H216.4M237.6 723.68H259.6M237.6 737.68H259.6M237.6 751.69H259.6"/></g>
<rect x="343.6" y="124" width="66.4" height="638.8" fill="#dfe2dd"/>
<defs><linearGradient id="cg" x1="0" y1="0" x2="0" y2="1">
<stop offset="0.0000" stop-color="#ff2600"/>
<stop offset="0.0571" stop-color="#ff2c00"/>
<stop offset="0.1492" stop-color="#ff4800"/>
<stop offset="0.2000" stop-color="#ff5c00"/>
<stop offset="0.2540" stop-color="#ff7a00"/>
<stop offset="0.3270" stop-color="#ffac00"/>
<stop offset="0.3921" stop-color="#ffd700"/>
<stop offset="0.4540" stop-color="#fff500"/>
<stop offset="0.5016" stop-color="#ffff00"/>
<stop offset="0.5651" stop-color="#e8ff00"/>
<stop offset="0.6270" stop-color="#c8ff00"/>
<stop offset="0.6905" stop-color="#a8ff00"/>
<stop offset="0.7524" stop-color="#8cff00"/>
<stop offset="0.8159" stop-color="#76ff00"/>
<stop offset="0.8778" stop-color="#64ff00"/>
<stop offset="0.9397" stop-color="#58ff04"/>
<stop offset="1.0000" stop-color="#50ff0a"/>
</linearGradient></defs>
<rect x="363" y="124" width="21" height="630.3" fill="url(#cg)"/>
<text x="384.3" y="143.3" font-size="19" fill="#111">5.0</text>
<text x="384.3" y="174.6" font-size="19" fill="#111">4.0</text>
<text x="384.3" y="224.5" font-size="19" fill="#111">3.0</text>
<text x="384.3" y="254.8" font-size="19" fill="#111">2.5</text>
<text x="384.3" y="290.6" font-size="19" fill="#111">2.0</text>
<text x="384.3" y="336.4" font-size="19" fill="#111">1.5</text>
<text x="384.3" y="377.8" font-size="19" fill="#111">1.2</text>
<text x="384.3" y="447.6" font-size="19" fill="#111">1.0</text>
<text x="384.3" y="486.8" font-size="19" fill="#111">0.9</text>
<text x="384.3" y="525.8" font-size="19" fill="#111">0.8</text>
<text x="384.3" y="565.8" font-size="19" fill="#111">0.7</text>
<text x="384.3" y="604.8" font-size="19" fill="#111">0.6</text>
<text x="384.3" y="644.5" font-size="19" fill="#111">0.5</text>
<text x="384.3" y="683.8" font-size="19" fill="#111">0.4</text>
<text x="384.3" y="722.8" font-size="19" fill="#111">0.3</text>
<text transform="translate(357.8,482.5) rotate(-90)" font-size="17.5" fill="#111">Expression</text>
<g stroke="#e9e9e9" stroke-width="1" fill="none">
<path d="M49.0 1131.0L56.0 1125.0H512.5"/>
<path d="M49.0 1075.1L56.0 1069.1H512.5"/>
<path d="M49.0 1019.1L56.0 1013.1H512.5"/>
<path d="M49.0 963.2L56.0 957.2H512.5"/>
<path d="M49.0 907.2L56.0 901.2H512.5"/>
<path d="M49.0 851.3L56.0 845.3H512.5"/>
<path d="M49.0 1188.0V851.3"/>
<path d="M56.0 1181.0V845.3"/>
</g>
<path d="M49.0 1188.1L56.0 1182.1H512.5L507.5 1188.1Z" fill="#8e9a96"/>
<defs><linearGradient id="bg" x1="0" y1="0" x2="1" y2="0"><stop offset="0" stop-color="#8794f0"/><stop offset="0.5" stop-color="#a3b1ff"/><stop offset="1" stop-color="#8e9cf5"/></linearGradient></defs>
<path d="M65.8 894.4L69.3 891.4V1183.6L65.8 1186.6Z" fill="#1c2294" stroke="#141a78" stroke-width="0.6"/>
<path d="M55.9 894.4L59.4 891.4H69.3L65.8 894.4Z" fill="#4a58cc" stroke="#141a78" stroke-width="0.6"/>
<rect x="55.9" y="894.4" width="9.9" height="292.2" fill="url(#bg)" stroke="#1c2294" stroke-width="0.7"/>
<path d="M85.7 944.9L89.2 941.9V1183.6L85.7 1186.6Z" fill="#1c2294" stroke="#141a78" stroke-width="0.6"/>
<path d="M75.8 944.9L79.3 941.9H89.2L85.7 944.9Z" fill="#4a58cc" stroke="#141a78" stroke-width="0.6"/>
<rect x="75.8" y="944.9" width="9.9" height="241.7" fill="url(#bg)" stroke="#1c2294" stroke-width="0.7"/>
<path d="M105.6 1051.7L109.1 1048.7V1183.6L105.6 1186.6Z" fill="#1c2294" stroke="#141a78" stroke-width="0.6"/>
<path d="M95.7 1051.7L99.2 1048.7H109.1L105.6 1051.7Z" fill="#4a58cc" stroke="#141a78" stroke-width="0.6"/>
<rect x="95.7" y="1051.7" width="9.9" height="134.9" fill="url(#bg)" stroke="#1c2294" stroke-width="0.7"/>
<path d="M125.4 1051.7L128.9 1048.7V1183.6L125.4 1186.6Z" fill="#1c2294" stroke="#141a78" stroke-width="0.6"/>
<path d="M115.5 1051.7L119.0 1048.7H128.9L125.4 1051.7Z" fill="#4a58cc" stroke="#141a78" stroke-width="0.6"/>
<rect x="115.5" y="1051.7" width="9.9" height="134.9" fill="url(#bg)" stroke="#1c2294" stroke-width="0.7"/>
<path d="M145.3 1051.7L148.8 1048.7V1183.6L145.3 1186.6Z" fill="#1c2294" stroke="#141a78" stroke-width="0.6"/>
<path d="M135.4 1051.7L138.9 1048.7H148.8L145.3 1051.7Z" fill="#4a58cc" stroke="#141a78" stroke-width="0.6"/>
<rect x="135.4" y="1051.7" width="9.9" height="134.9" fill="url(#bg)" stroke="#1c2294" stroke-width="0.7"/>
<path d="M165.2 939.3L168.7 936.3V1183.6L165.2 1186.6Z" fill="#1c2294" stroke="#141a78" stroke-width="0.6"/>
<path d="M155.3 939.3L158.8 936.3H168.7L165.2 939.3Z" fill="#4a58cc" stroke="#141a78" stroke-width="0.6"/>
<rect x="155.3" y="939.3" width="9.9" height="247.3" fill="url(#bg)" stroke="#1c2294" stroke-width="0.7"/>
<path d="M185.1 1040.5L188.6 1037.5V1183.6L185.1 1186.6Z" fill="#1c2294" stroke="#141a78" stroke-width="0.6"/>
<path d="M175.2 1040.5L178.7 1037.5H188.6L185.1 1040.5Z" fill="#4a58cc" stroke="#141a78" stroke-width="0.6"/>
<rect x="175.2" y="1040.5" width="9.9" height="146.1" fill="url(#bg)" stroke="#1c2294" stroke-width="0.7"/>
<path d="M205.0 1102.3L208.5 1099.3V1183.6L205.0 1186.6Z" fill="#1c2294" stroke="#141a78" stroke-width="0.6"/>
<path d="M195.1 1102.3L198.6 1099.3H208.5L205.0 1102.3Z" fill="#4a58cc" stroke="#141a78" stroke-width="0.6"/>
<rect x="195.1" y="1102.3" width="9.9" height="84.3" fill="url(#bg)" stroke="#1c2294" stroke-width="0.7"/>
<path d="M224.8 1079.8L228.3 1076.8V1183.6L224.8 1186.6Z" fill="#1c2294" stroke="#141a78" stroke-width="0.6"/>
<path d="M214.9 1079.8L218.4 1076.8H228.3L224.8 1079.8Z" fill="#4a58cc" stroke="#141a78" stroke-width="0.6"/>
<rect x="214.9" y="1079.8" width="9.9" height="106.8" fill="url(#bg)" stroke="#1c2294" stroke-width="0.7"/>
<path d="M244.7 1063.0L248.2 1060.0V1183.6L244.7 1186.6Z" fill="#1c2294" stroke="#141a78" stroke-width="0.6"/>
<path d="M234.8 1063.0L238.3 1060.0H248.2L244.7 1063.0Z" fill="#4a58cc" stroke="#141a78" stroke-width="0.6"/>
<rect x="234.8" y="1063.0" width="9.9" height="123.6" fill="url(#bg)" stroke="#1c2294" stroke-width="0.7"/>
<path d="M264.6 995.5L268.1 992.5V1183.6L264.6 1186.6Z" fill="#1c2294" stroke="#141a78" stroke-width="0.6"/>
<path d="M254.7 995.5L258.2 992.5H268.1L264.6 995.5Z" fill="#4a58cc" stroke="#141a78" stroke-width="0.6"/>
<rect x="254.7" y="995.5" width="9.9" height="191.1" fill="url(#bg)" stroke="#1c2294" stroke-width="0.7"/>
<path d="M284.5 1051.7L288.0 1048.7V1183.6L284.5 1186.6Z" fill="#1c2294" stroke="#141a78" stroke-width="0.6"/>
<path d="M274.6 1051.7L278.1 1048.7H288.0L284.5 1051.7Z" fill="#4a58cc" stroke="#141a78" stroke-width="0.6"/>
<rect x="274.6" y="1051.7" width="9.9" height="134.9" fill="url(#bg)" stroke="#1c2294" stroke-width="0.7"/>
<path d="M304.4 1147.3L307.9 1144.3V1183.6L304.4 1186.6Z" fill="#1c2294" stroke="#141a78" stroke-width="0.6"/>
<path d="M294.5 1147.3L298.0 1144.3H307.9L304.4 1147.3Z" fill="#4a58cc" stroke="#141a78" stroke-width="0.6"/>
<rect x="294.5" y="1147.3" width="9.9" height="39.3" fill="url(#bg)" stroke="#1c2294" stroke-width="0.7"/>
<path d="M324.2 1091.1L327.7 1088.1V1183.6L324.2 1186.6Z" fill="#1c2294" stroke="#141a78" stroke-width="0.6"/>
<path d="M314.3 1091.1L317.8 1088.1H327.7L324.2 1091.1Z" fill="#4a58cc" stroke="#141a78" stroke-width="0.6"/>
<rect x="314.3" y="1091.1" width="9.9" height="95.5" fill="url(#bg)" stroke="#1c2294" stroke-width="0.7"/>
<path d="M344.1 1091.1L347.6 1088.1V1183.6L344.1 1186.6Z" fill="#1c2294" stroke="#141a78" stroke-width="0.6"/>
<path d="M334.2 1091.1L337.7 1088.1H347.6L344.1 1091.1Z" fill="#4a58cc" stroke="#141a78" stroke-width="0.6"/>
<rect x="334.2" y="1091.1" width="9.9" height="95.5" fill="url(#bg)" stroke="#1c2294" stroke-width="0.7"/>
<path d="M364.0 1113.5L367.5 1110.5V1183.6L364.0 1186.6Z" fill="#1c2294" stroke="#141a78" stroke-width="0.6"/>
<path d="M354.1 1113.5L357.6 1110.5H367.5L364.0 1113.5Z" fill="#4a58cc" stroke="#141a78" stroke-width="0.6"/>
<rect x="354.1" y="1113.5" width="9.9" height="73.1" fill="url(#bg)" stroke="#1c2294" stroke-width="0.7"/>
<path d="M383.9 1051.7L387.4 1048.7V1183.6L383.9 1186.6Z" fill="#1c2294" stroke="#141a78" stroke-width="0.6"/>
<path d="M374.0 1051.7L377.5 1048.7H387.4L383.9 1051.7Z" fill="#4a58cc" stroke="#141a78" stroke-width="0.6"/>
<rect x="374.0" y="1051.7" width="9.9" height="134.9" fill="url(#bg)" stroke="#1c2294" stroke-width="0.7"/>
<path d="M403.8 1136.0L407.3 1133.0V1183.6L403.8 1186.6Z" fill="#1c2294" stroke="#141a78" stroke-width="0.6"/>
<path d="M393.9 1136.0L397.4 1133.0H407.3L403.8 1136.0Z" fill="#4a58cc" stroke="#141a78" stroke-width="0.6"/>
<rect x="393.9" y="1136.0" width="9.9" height="50.6" fill="url(#bg)" stroke="#1c2294" stroke-width="0.7"/>
<path d="M423.6 1051.7L427.1 1048.7V1183.6L423.6 1186.6Z" fill="#1c2294" stroke="#141a78" stroke-width="0.6"/>
<path d="M413.7 1051.7L417.2 1048.7H427.1L423.6 1051.7Z" fill="#4a58cc" stroke="#141a78" stroke-width="0.6"/>
<rect x="413.7" y="1051.7" width="9.9" height="134.9" fill="url(#bg)" stroke="#1c2294" stroke-width="0.7"/>
<path d="M443.5 1096.7L447.0 1093.7V1183.6L443.5 1186.6Z" fill="#1c2294" stroke="#141a78" stroke-width="0.6"/>
<path d="M433.6 1096.7L437.1 1093.7H447.0L443.5 1096.7Z" fill="#4a58cc" stroke="#141a78" stroke-width="0.6"/>
<rect x="433.6" y="1096.7" width="9.9" height="89.9" fill="url(#bg)" stroke="#1c2294" stroke-width="0.7"/>
<path d="M463.4 1147.3L466.9 1144.3V1183.6L463.4 1186.6Z" fill="#1c2294" stroke="#141a78" stroke-width="0.6"/>
<path d="M453.5 1147.3L457.0 1144.3H466.9L463.4 1147.3Z" fill="#4a58cc" stroke="#141a78" stroke-width="0.6"/>
<rect x="453.5" y="1147.3" width="9.9" height="39.3" fill="url(#bg)" stroke="#1c2294" stroke-width="0.7"/>
<path d="M483.3 1074.2L486.8 1071.2V1183.6L483.3 1186.6Z" fill="#1c2294" stroke="#141a78" stroke-width="0.6"/>
<path d="M473.4 1074.2L476.9 1071.2H486.8L483.3 1074.2Z" fill="#4a58cc" stroke="#141a78" stroke-width="0.6"/>
<rect x="473.4" y="1074.2" width="9.9" height="112.4" fill="url(#bg)" stroke="#1c2294" stroke-width="0.7"/>
<path d="M503.2 1130.4L506.7 1127.4V1183.6L503.2 1186.6Z" fill="#1c2294" stroke="#141a78" stroke-width="0.6"/>
<path d="M493.3 1130.4L496.8 1127.4H506.7L503.2 1130.4Z" fill="#4a58cc" stroke="#141a78" stroke-width="0.6"/>
<rect x="493.3" y="1130.4" width="9.9" height="56.2" fill="url(#bg)" stroke="#1c2294" stroke-width="0.7"/>
<text x="58.6" y="1207.6" font-size="13" text-anchor="middle" fill="#111">1</text>
<text x="78.5" y="1207.6" font-size="13" text-anchor="middle" fill="#111">2</text>
<text x="98.4" y="1207.6" font-size="13" text-anchor="middle" fill="#111">3</text>
<text x="118.2" y="1207.6" font-size="13" text-anchor="middle" fill="#111">4</text>
<text x="138.1" y="1207.6" font-size="13" text-anchor="middle" fill="#111">5</text>
<text x="158.0" y="1207.6" font-size="13" text-anchor="middle" fill="#111">6</text>
<text x="177.9" y="1207.6" font-size="13" text-anchor="middle" fill="#111">7</text>
<text x="197.8" y="1207.6" font-size="13" text-anchor="middle" fill="#111">8</text>
<text x="217.6" y="1207.6" font-size="13" text-anchor="middle" fill="#111">9</text>
<text x="237.5" y="1207.6" font-size="13" text-anchor="middle" fill="#111">10</text>
<text x="257.4" y="1207.6" font-size="13" text-anchor="middle" fill="#111">11</text>
<text x="277.3" y="1207.6" font-size="13" text-anchor="middle" fill="#111">12</text>
<text x="297.2" y="1207.6" font-size="13" text-anchor="middle" fill="#111">13</text>
<text x="317.0" y="1207.6" font-size="13" text-anchor="middle" fill="#111">14</text>
<text x="336.9" y="1207.6" font-size="13" text-anchor="middle" fill="#111">15</text>
<text x="356.8" y="1207.6" font-size="13" text-anchor="middle" fill="#111">16</text>
<text x="376.7" y="1207.6" font-size="13" text-anchor="middle" fill="#111">17</text>
<text x="396.6" y="1207.6" font-size="13" text-anchor="middle" fill="#111">18</text>
<text x="416.4" y="1207.6" font-size="13" text-anchor="middle" fill="#111">19</text>
<text x="436.3" y="1207.6" font-size="13" text-anchor="middle" fill="#111">20</text>
<text x="456.2" y="1207.6" font-size="13" text-anchor="middle" fill="#111">21</text>
<text x="476.1" y="1207.6" font-size="13" text-anchor="middle" fill="#111">22</text>
<text x="496.0" y="1207.6" font-size="13" text-anchor="middle" fill="#111">X</text>
<text x="42" y="1192.1" font-size="14" text-anchor="end" fill="#111">0</text>
<text x="42" y="1136.1" font-size="14" text-anchor="end" fill="#111">10</text>
<text x="42" y="1080.2" font-size="14" text-anchor="end" fill="#111">20</text>
<text x="42" y="1024.2" font-size="14" text-anchor="end" fill="#111">30</text>
<text x="42" y="968.3" font-size="14" text-anchor="end" fill="#111">40</text>
<text x="42" y="912.4" font-size="14" text-anchor="end" fill="#111">50</text>
<text x="42" y="856.4" font-size="14" text-anchor="end" fill="#111">60</text>
<text x="276.5" y="1224" font-size="14" font-weight="bold" text-anchor="middle" fill="#111">Chromosome</text>
<text transform="translate(12.1,1018) rotate(-90)" font-size="14" font-weight="bold" text-anchor="middle" fill="#111">Count</text>
<text x="278.8" y="826" font-size="17.86" font-weight="bold" text-anchor="middle" fill="#111">Physical Distribution of Differentially Expressed Genes</text>
</svg>
</body></html>
